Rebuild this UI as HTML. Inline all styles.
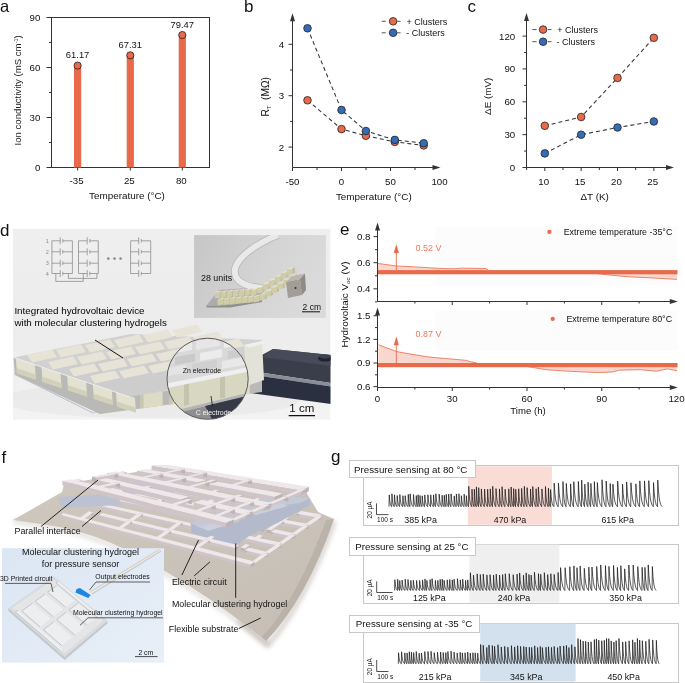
<!DOCTYPE html>
<html><head><meta charset="utf-8"><style>
html,body{margin:0;padding:0;background:#fff;}
svg{display:block;}
text{font-family:"Liberation Sans",sans-serif;}
</style></head><body>
<svg style="will-change:transform" width="685" height="683" viewBox="0 0 685 683">
<rect width="685" height="683" fill="#fff"/>
<text x="0.00" y="235.60" font-size="17" text-anchor="start" fill="#111" >d</text>
<defs>
<linearGradient id="dbg" x1="0" y1="0" x2="0" y2="1">
 <stop offset="0" stop-color="#efefef"/><stop offset="0.55" stop-color="#ececec"/><stop offset="1" stop-color="#f3f3f3"/></linearGradient>
<linearGradient id="insbg" x1="0" y1="0" x2="1" y2="0.3">
 <stop offset="0" stop-color="#c6c6c6"/><stop offset="0.6" stop-color="#d4d4d4"/><stop offset="1" stop-color="#dadada"/></linearGradient>
<linearGradient id="phone" x1="0" y1="0" x2="0" y2="1">
 <stop offset="0" stop-color="#3b4150"/><stop offset="0.5" stop-color="#262b38"/><stop offset="1" stop-color="#3a3f4c"/></linearGradient>
<linearGradient id="plate" x1="0" y1="0" x2="0" y2="1">
 <stop offset="0" stop-color="#dedede"/><stop offset="1" stop-color="#cfcfd2"/></linearGradient>
<clipPath id="dclip"><rect x="12.9" y="228.6" width="317.6" height="191.2"/></clipPath>
<clipPath id="circclip"><circle cx="207.6" cy="378.8" r="40.6"/></clipPath>
</defs>
<g clip-path="url(#dclip)">
<rect x="12.9" y="228.6" width="317.6" height="191.2" fill="url(#dbg)"/>
<ellipse cx="150" cy="400" rx="150" ry="18" fill="#e4e4e4" opacity="0.5"/>
<polygon points="249.0,362.0 273.0,349.0 331.0,355.0 331.0,383.0 250.0,371.0" fill="#3a3e4b" />
<polygon points="273.0,349.0 331.0,355.0 331.0,366.0 262.0,357.0" fill="#474b59" />
<polygon points="250.0,371.0 331.0,383.0 331.0,386.5 250.0,374.5" fill="#8a8d98" />
<polygon points="250.0,374.5 331.0,386.5 331.0,404.0 250.0,393.0" fill="#2b3040" />
<ellipse cx="325" cy="358.4" rx="7" ry="3.2" fill="#1f2431"/>
<ellipse cx="325" cy="356.6" rx="5" ry="2" fill="#3c4250"/>
<polygon points="14.8,374.4 150.0,349.0 262.0,356.0 175.0,392.0 100.0,414.0" fill="#d6d6da" />
<line x1="14.80" y1="374.40" x2="93.00" y2="413.00" stroke="#a9b0cc" stroke-width="0.8" />
<line x1="93.00" y1="413.00" x2="175.00" y2="390.00" stroke="#c2c4cc" stroke-width="0.8" />
<polygon points="13.6,357.5 130.0,396.0 262.0,378.0 262.0,392.0 100.0,414.0 14.8,374.4" fill="#b9b9b6" />
<polygon points="15.9,358.3 34.9,364.6 35.9,379.6 16.9,373.3" fill="#e3e1cf" />
<polygon points="16.9,368.3 35.9,374.6 35.9,379.6 16.9,373.3" fill="#d2d0ba" />
<polygon points="41.5,366.7 60.5,373.0 61.5,388.0 42.5,381.7" fill="#e3e1cf" />
<polygon points="42.5,376.7 61.5,383.0 61.5,388.0 42.5,381.7" fill="#d2d0ba" />
<polygon points="67.1,375.2 86.1,381.5 87.1,396.5 68.1,390.2" fill="#e3e1cf" />
<polygon points="68.1,385.2 87.1,391.5 87.1,396.5 68.1,390.2" fill="#d2d0ba" />
<polygon points="92.8,383.7 111.8,390.0 112.8,405.0 93.8,398.7" fill="#e3e1cf" />
<polygon points="93.8,393.7 112.8,400.0 112.8,405.0 93.8,398.7" fill="#d2d0ba" />
<polygon points="116.0,391.4 135.0,397.7 136.0,412.7 117.0,406.4" fill="#e3e1cf" />
<polygon points="117.0,401.4 136.0,407.7 136.0,412.7 117.0,406.4" fill="#d2d0ba" />
<polygon points="140.6,394.6 162.6,391.6 162.6,405.6 140.6,408.6" fill="#dddbc6" />
<polygon points="140.6,394.6 143.6,394.2 143.6,408.2 140.6,408.6" fill="#c9c7b0" />
<polygon points="169.6,390.6 191.6,387.6 191.6,401.6 169.6,404.6" fill="#dddbc6" />
<polygon points="169.6,390.6 172.6,390.2 172.6,404.2 169.6,404.6" fill="#c9c7b0" />
<polygon points="198.6,386.6 220.6,383.6 220.6,397.6 198.6,400.6" fill="#dddbc6" />
<polygon points="198.6,386.6 201.6,386.2 201.6,400.2 198.6,400.6" fill="#c9c7b0" />
<polygon points="227.7,382.7 249.7,379.7 249.7,393.7 227.7,396.7" fill="#dddbc6" />
<polygon points="227.7,382.7 230.7,382.3 230.7,396.3 227.7,396.7" fill="#c9c7b0" />
<polygon points="13.6,357.5 131.0,334.0 262.0,340.0 258.0,372.0 130.0,397.0" fill="#cbcbcb" opacity="0.85"/>
<line x1="13.60" y1="357.50" x2="130.00" y2="397.00" stroke="#f0f0f0" stroke-width="0.9" />
<polygon points="244.0,345.0 262.0,341.0 264.0,380.0 247.0,386.0" fill="#e2e2d8" />
<polygon points="244.0,345.0 262.0,341.0 266.0,343.0 249.0,347.5" fill="#f0f0ea" />
<polygon points="90.0,376.0 115.0,370.5 120.0,378.0 95.0,383.5" fill="#e7e3d7" />
<polygon points="119.0,371.0 144.0,365.5 149.0,373.0 124.0,378.5" fill="#e7e3d7" />
<polygon points="148.0,366.0 173.0,360.5 178.0,368.0 153.0,373.5" fill="#e7e3d7" />
<polygon points="177.0,361.0 202.0,355.5 207.0,363.0 182.0,368.5" fill="#e7e3d7" />
<polygon points="206.0,356.0 231.0,350.5 236.0,358.0 211.0,363.5" fill="#e7e3d7" />
<polygon points="69.0,369.0 94.0,363.5 99.0,371.0 74.0,376.5" fill="#e7e3d7" />
<polygon points="98.0,364.0 123.0,358.5 128.0,366.0 103.0,371.5" fill="#e7e3d7" />
<polygon points="127.0,359.0 152.0,353.5 157.0,361.0 132.0,366.5" fill="#e7e3d7" />
<polygon points="156.0,354.0 181.0,348.5 186.0,356.0 161.0,361.5" fill="#e7e3d7" />
<polygon points="185.0,349.0 210.0,343.5 215.0,351.0 190.0,356.5" fill="#e7e3d7" />
<polygon points="214.0,344.0 239.0,338.5 244.0,346.0 219.0,351.5" fill="#e7e3d7" />
<polygon points="48.0,362.0 73.0,356.5 78.0,364.0 53.0,369.5" fill="#e7e3d7" />
<polygon points="77.0,357.0 102.0,351.5 107.0,359.0 82.0,364.5" fill="#e7e3d7" />
<polygon points="106.0,352.0 131.0,346.5 136.0,354.0 111.0,359.5" fill="#e7e3d7" />
<polygon points="135.0,347.0 160.0,341.5 165.0,349.0 140.0,354.5" fill="#e7e3d7" />
<polygon points="164.0,342.0 189.0,336.5 194.0,344.0 169.0,349.5" fill="#e7e3d7" />
<polygon points="193.0,337.0 218.0,331.5 223.0,339.0 198.0,344.5" fill="#e7e3d7" />
<polygon points="27.0,355.0 52.0,349.5 57.0,357.0 32.0,362.5" fill="#e7e3d7" />
<polygon points="56.0,350.0 81.0,344.5 86.0,352.0 61.0,357.5" fill="#e7e3d7" />
<polygon points="85.0,345.0 110.0,339.5 115.0,347.0 90.0,352.5" fill="#e7e3d7" />
<polygon points="114.0,340.0 139.0,334.5 144.0,342.0 119.0,347.5" fill="#e7e3d7" />
<polygon points="143.0,335.0 168.0,329.5 173.0,337.0 148.0,342.5" fill="#e7e3d7" />
<polygon points="172.0,330.0 197.0,324.5 202.0,332.0 177.0,337.5" fill="#e7e3d7" />
<g clip-path="url(#circclip)">
<rect x="165" y="336" width="86" height="86" fill="#d9d9d9"/>
<rect x="170" y="345" width="22" height="9" fill="#e9e9e9" transform="skewY(-10)" transform-origin="170 345"/>
<rect x="196" y="341" width="24" height="9" fill="#e6e6e6" transform="skewY(-10)" transform-origin="196 341"/>
<rect x="224" y="340" width="22" height="8" fill="#eeeeee" transform="skewY(-10)" transform-origin="224 340"/>
<rect x="175" y="357" width="20" height="8" fill="#c9c9c9" transform="skewY(-10)" transform-origin="175 357"/>
<rect x="200" y="353" width="22" height="8" fill="#ececec" transform="skewY(-10)" transform-origin="200 353"/>
<rect x="228" y="351" width="20" height="8" fill="#cdcdcd" transform="skewY(-10)" transform-origin="228 351"/>
<rect x="168" y="368" width="18" height="8" fill="#e4e4e4" transform="skewY(-10)" transform-origin="168 368"/>
<rect x="192" y="364" width="25" height="8" fill="#d0d0d0" transform="skewY(-10)" transform-origin="192 364"/>
<rect x="222" y="361" width="24" height="8" fill="#e8e8e8" transform="skewY(-10)" transform-origin="222 361"/>
<polygon points="165.0,388.5 251.0,371.0 251.0,392.0 165.0,413.0" fill="#d8d8c2" />
<polygon points="184.0,380.8 189.0,379.8 189.0,404.8 184.0,405.8" fill="#c4c4ae" />
<polygon points="220.0,373.6 225.0,372.6 225.0,397.6 220.0,398.6" fill="#c4c4ae" />
<polygon points="165.0,384.0 251.0,366.5 251.0,371.0 165.0,388.5" fill="#efefef" />
<polygon points="165.0,413.0 251.0,392.0 251.0,395.0 165.0,416.0" fill="#b4b4b4" />
<polygon points="165.0,416.0 251.0,395.0 251.0,425.0 165.0,425.0" fill="#8f8f92" />
<polygon points="205.0,406.0 251.0,395.0 251.0,425.0 215.0,425.0" fill="#363a46" />
</g>
<circle cx="207.6" cy="378.8" r="40.6" fill="none" stroke="#5b5b5b" stroke-width="1"/>
<text x="202.00" y="372.60" font-size="6.9" text-anchor="middle" fill="#111" >Zn electrode</text>
<text x="213.60" y="414.70" font-size="7.0" text-anchor="middle" fill="#f4f4f4" >C electrode</text>
<line x1="211.00" y1="396.00" x2="212.50" y2="406.00" stroke="#111" stroke-width="0.8" />
<text x="301.80" y="412.00" font-size="11.5" text-anchor="middle" fill="#111" >1 cm</text>
<line x1="288.70" y1="415.60" x2="315.00" y2="415.60" stroke="#111" stroke-width="1.3" />
<line x1="95.00" y1="340.00" x2="123.00" y2="358.00" stroke="#111" stroke-width="1" />
</g>
<line x1="51.90" y1="240.80" x2="60.20" y2="240.80" stroke="#8e8e8e" stroke-width="0.8" />
<line x1="62.80" y1="240.80" x2="72.40" y2="240.80" stroke="#8e8e8e" stroke-width="0.8" />
<line x1="60.20" y1="237.30" x2="60.20" y2="244.30" stroke="#8e8e8e" stroke-width="0.8" />
<line x1="62.80" y1="239.00" x2="62.80" y2="242.60" stroke="#8e8e8e" stroke-width="0.8" />
<line x1="51.90" y1="251.80" x2="60.20" y2="251.80" stroke="#8e8e8e" stroke-width="0.8" />
<line x1="62.80" y1="251.80" x2="72.40" y2="251.80" stroke="#8e8e8e" stroke-width="0.8" />
<line x1="60.20" y1="248.30" x2="60.20" y2="255.30" stroke="#8e8e8e" stroke-width="0.8" />
<line x1="62.80" y1="250.00" x2="62.80" y2="253.60" stroke="#8e8e8e" stroke-width="0.8" />
<line x1="51.90" y1="263.20" x2="60.20" y2="263.20" stroke="#8e8e8e" stroke-width="0.8" />
<line x1="62.80" y1="263.20" x2="72.40" y2="263.20" stroke="#8e8e8e" stroke-width="0.8" />
<line x1="60.20" y1="259.70" x2="60.20" y2="266.70" stroke="#8e8e8e" stroke-width="0.8" />
<line x1="62.80" y1="261.40" x2="62.80" y2="265.00" stroke="#8e8e8e" stroke-width="0.8" />
<line x1="51.90" y1="273.50" x2="60.20" y2="273.50" stroke="#8e8e8e" stroke-width="0.8" />
<line x1="62.80" y1="273.50" x2="72.40" y2="273.50" stroke="#8e8e8e" stroke-width="0.8" />
<line x1="60.20" y1="270.00" x2="60.20" y2="277.00" stroke="#8e8e8e" stroke-width="0.8" />
<line x1="62.80" y1="271.70" x2="62.80" y2="275.30" stroke="#8e8e8e" stroke-width="0.8" />
<line x1="51.90" y1="240.80" x2="51.90" y2="273.50" stroke="#8e8e8e" stroke-width="0.8" />
<line x1="72.40" y1="240.80" x2="72.40" y2="273.50" stroke="#8e8e8e" stroke-width="0.8" />
<line x1="78.50" y1="240.80" x2="87.20" y2="240.80" stroke="#8e8e8e" stroke-width="0.8" />
<line x1="89.80" y1="240.80" x2="98.30" y2="240.80" stroke="#8e8e8e" stroke-width="0.8" />
<line x1="87.20" y1="237.30" x2="87.20" y2="244.30" stroke="#8e8e8e" stroke-width="0.8" />
<line x1="89.80" y1="239.00" x2="89.80" y2="242.60" stroke="#8e8e8e" stroke-width="0.8" />
<line x1="78.50" y1="251.80" x2="87.20" y2="251.80" stroke="#8e8e8e" stroke-width="0.8" />
<line x1="89.80" y1="251.80" x2="98.30" y2="251.80" stroke="#8e8e8e" stroke-width="0.8" />
<line x1="87.20" y1="248.30" x2="87.20" y2="255.30" stroke="#8e8e8e" stroke-width="0.8" />
<line x1="89.80" y1="250.00" x2="89.80" y2="253.60" stroke="#8e8e8e" stroke-width="0.8" />
<line x1="78.50" y1="263.20" x2="87.20" y2="263.20" stroke="#8e8e8e" stroke-width="0.8" />
<line x1="89.80" y1="263.20" x2="98.30" y2="263.20" stroke="#8e8e8e" stroke-width="0.8" />
<line x1="87.20" y1="259.70" x2="87.20" y2="266.70" stroke="#8e8e8e" stroke-width="0.8" />
<line x1="89.80" y1="261.40" x2="89.80" y2="265.00" stroke="#8e8e8e" stroke-width="0.8" />
<line x1="78.50" y1="273.50" x2="87.20" y2="273.50" stroke="#8e8e8e" stroke-width="0.8" />
<line x1="89.80" y1="273.50" x2="98.30" y2="273.50" stroke="#8e8e8e" stroke-width="0.8" />
<line x1="87.20" y1="270.00" x2="87.20" y2="277.00" stroke="#8e8e8e" stroke-width="0.8" />
<line x1="89.80" y1="271.70" x2="89.80" y2="275.30" stroke="#8e8e8e" stroke-width="0.8" />
<line x1="78.50" y1="240.80" x2="78.50" y2="273.50" stroke="#8e8e8e" stroke-width="0.8" />
<line x1="98.30" y1="240.80" x2="98.30" y2="273.50" stroke="#8e8e8e" stroke-width="0.8" />
<line x1="130.60" y1="240.80" x2="138.70" y2="240.80" stroke="#8e8e8e" stroke-width="0.8" />
<line x1="141.30" y1="240.80" x2="150.70" y2="240.80" stroke="#8e8e8e" stroke-width="0.8" />
<line x1="138.70" y1="237.30" x2="138.70" y2="244.30" stroke="#8e8e8e" stroke-width="0.8" />
<line x1="141.30" y1="239.00" x2="141.30" y2="242.60" stroke="#8e8e8e" stroke-width="0.8" />
<line x1="130.60" y1="251.80" x2="138.70" y2="251.80" stroke="#8e8e8e" stroke-width="0.8" />
<line x1="141.30" y1="251.80" x2="150.70" y2="251.80" stroke="#8e8e8e" stroke-width="0.8" />
<line x1="138.70" y1="248.30" x2="138.70" y2="255.30" stroke="#8e8e8e" stroke-width="0.8" />
<line x1="141.30" y1="250.00" x2="141.30" y2="253.60" stroke="#8e8e8e" stroke-width="0.8" />
<line x1="130.60" y1="263.20" x2="138.70" y2="263.20" stroke="#8e8e8e" stroke-width="0.8" />
<line x1="141.30" y1="263.20" x2="150.70" y2="263.20" stroke="#8e8e8e" stroke-width="0.8" />
<line x1="138.70" y1="259.70" x2="138.70" y2="266.70" stroke="#8e8e8e" stroke-width="0.8" />
<line x1="141.30" y1="261.40" x2="141.30" y2="265.00" stroke="#8e8e8e" stroke-width="0.8" />
<line x1="130.60" y1="273.50" x2="138.70" y2="273.50" stroke="#8e8e8e" stroke-width="0.8" />
<line x1="141.30" y1="273.50" x2="150.70" y2="273.50" stroke="#8e8e8e" stroke-width="0.8" />
<line x1="138.70" y1="270.00" x2="138.70" y2="277.00" stroke="#8e8e8e" stroke-width="0.8" />
<line x1="141.30" y1="271.70" x2="141.30" y2="275.30" stroke="#8e8e8e" stroke-width="0.8" />
<line x1="130.60" y1="240.80" x2="130.60" y2="273.50" stroke="#8e8e8e" stroke-width="0.8" />
<line x1="150.70" y1="240.80" x2="150.70" y2="273.50" stroke="#8e8e8e" stroke-width="0.8" />
<path d="M55.8,273.5 L55.8,281.4 L83.3,281.4 L83.3,273.5" fill="none" stroke="#8e8e8e" stroke-width="0.8"/>
<path d="M68.4,273.5 L68.4,278.4 L96.9,278.4 L96.9,273.5" fill="none" stroke="#8e8e8e" stroke-width="0.8"/>
<text x="47.40" y="242.80" font-size="5.5" text-anchor="middle" fill="#8a8a8a" >1</text>
<text x="47.40" y="253.80" font-size="5.5" text-anchor="middle" fill="#8a8a8a" >2</text>
<text x="47.40" y="265.20" font-size="5.5" text-anchor="middle" fill="#8a8a8a" >3</text>
<text x="47.40" y="275.50" font-size="5.5" text-anchor="middle" fill="#8a8a8a" >4</text>
<circle cx="108.3" cy="258.6" r="1.35" fill="#8e8e8e"/>
<circle cx="114.5" cy="258.6" r="1.35" fill="#8e8e8e"/>
<circle cx="120.6" cy="258.6" r="1.35" fill="#8e8e8e"/>
<text x="14.40" y="313.80" font-size="9.8" text-anchor="start" fill="#000" >Integrated hydrovoltaic device</text>
<text x="14.40" y="325.70" font-size="9.8" text-anchor="start" fill="#000" >with molecular clustering hydrogels</text>
<clipPath id="insclip"><rect x="194.1" y="235.1" width="131.8" height="82.8"/></clipPath>
<g clip-path="url(#insclip)">
<rect x="194.1" y="235.1" width="131.8" height="82.8" fill="url(#insbg)"/>
<polygon points="206.0,306.0 219.0,290.0 265.0,287.0 262.0,300.0 230.0,305.0" fill="#acacac" />
<polygon points="206.0,306.0 230.0,305.0 262.0,300.0 262.0,302.0 230.0,307.5 207.0,307.5" fill="#8f8f8f" />
<path d="M278,235 C258,243 238,256 235,269 C233,280 244,287 262,288" fill="none" stroke="#b4b4b4" stroke-width="7.5"/>
<path d="M278,235 C258,243 238,256 235,269 C233,280 244,287 262,288" fill="none" stroke="#e9e9e9" stroke-width="6"/>
<path d="M262,290 C272,289 282,280 296,270" fill="none" stroke="#d0d0d0" stroke-width="6"/>
<polygon points="215.0,293.0 220.5,292.0 220.5,297.5 215.0,298.5" fill="#cfcca6" />
<polygon points="215.0,293.0 220.5,292.0 222.5,290.4 217.0,291.4" fill="#e7e5cf" />
<polygon points="220.5,292.0 222.5,290.4 222.5,296.0 220.5,297.5" fill="#bdb995" />
<polygon points="221.0,292.5 226.5,291.5 226.5,297.0 221.0,298.0" fill="#cfcca6" />
<polygon points="221.0,292.5 226.5,291.5 228.5,289.9 223.0,290.9" fill="#e7e5cf" />
<polygon points="226.5,291.5 228.5,289.9 228.5,295.5 226.5,297.0" fill="#bdb995" />
<polygon points="227.0,292.0 232.5,291.0 232.5,296.5 227.0,297.5" fill="#cfcca6" />
<polygon points="227.0,292.0 232.5,291.0 234.5,289.4 229.0,290.4" fill="#e7e5cf" />
<polygon points="232.5,291.0 234.5,289.4 234.5,295.0 232.5,296.5" fill="#bdb995" />
<polygon points="233.0,291.6 238.5,290.6 238.5,296.1 233.0,297.1" fill="#cfcca6" />
<polygon points="233.0,291.6 238.5,290.6 240.5,289.0 235.0,290.0" fill="#e7e5cf" />
<polygon points="238.5,290.6 240.5,289.0 240.5,294.6 238.5,296.1" fill="#bdb995" />
<polygon points="239.0,291.1 244.5,290.1 244.5,295.6 239.0,296.6" fill="#cfcca6" />
<polygon points="239.0,291.1 244.5,290.1 246.5,288.5 241.0,289.5" fill="#e7e5cf" />
<polygon points="244.5,290.1 246.5,288.5 246.5,294.1 244.5,295.6" fill="#bdb995" />
<polygon points="245.0,290.6 250.5,289.6 250.5,295.1 245.0,296.1" fill="#cfcca6" />
<polygon points="245.0,290.6 250.5,289.6 252.5,288.0 247.0,289.0" fill="#e7e5cf" />
<polygon points="250.5,289.6 252.5,288.0 252.5,293.6 250.5,295.1" fill="#bdb995" />
<polygon points="251.0,290.1 256.5,289.1 256.5,294.6 251.0,295.6" fill="#cfcca6" />
<polygon points="251.0,290.1 256.5,289.1 258.5,287.5 253.0,288.5" fill="#e7e5cf" />
<polygon points="256.5,289.1 258.5,287.5 258.5,293.1 256.5,294.6" fill="#bdb995" />
<polygon points="257.0,288.1 262.5,287.1 262.5,292.6 257.0,293.6" fill="#cfcca6" />
<polygon points="257.0,288.1 262.5,287.1 264.5,285.5 259.0,286.5" fill="#e7e5cf" />
<polygon points="262.5,287.1 264.5,285.5 264.5,291.1 262.5,292.6" fill="#bdb995" />
<polygon points="263.0,284.4 268.5,283.4 268.5,288.9 263.0,289.9" fill="#cfcca6" />
<polygon points="263.0,284.4 268.5,283.4 270.5,281.8 265.0,282.8" fill="#e7e5cf" />
<polygon points="268.5,283.4 270.5,281.8 270.5,287.4 268.5,288.9" fill="#bdb995" />
<polygon points="269.0,280.7 274.5,279.7 274.5,285.2 269.0,286.2" fill="#cfcca6" />
<polygon points="269.0,280.7 274.5,279.7 276.5,278.1 271.0,279.1" fill="#e7e5cf" />
<polygon points="274.5,279.7 276.5,278.1 276.5,283.7 274.5,285.2" fill="#bdb995" />
<polygon points="275.0,277.0 280.5,276.0 280.5,281.5 275.0,282.5" fill="#cfcca6" />
<polygon points="275.0,277.0 280.5,276.0 282.5,274.4 277.0,275.4" fill="#e7e5cf" />
<polygon points="280.5,276.0 282.5,274.4 282.5,280.0 280.5,281.5" fill="#bdb995" />
<polygon points="281.0,273.3 286.5,272.3 286.5,277.8 281.0,278.8" fill="#cfcca6" />
<polygon points="281.0,273.3 286.5,272.3 288.5,270.7 283.0,271.7" fill="#e7e5cf" />
<polygon points="286.5,272.3 288.5,270.7 288.5,276.3 286.5,277.8" fill="#bdb995" />
<polygon points="287.0,269.5 292.5,268.5 292.5,274.0 287.0,275.0" fill="#cfcca6" />
<polygon points="287.0,269.5 292.5,268.5 294.5,266.9 289.0,267.9" fill="#e7e5cf" />
<polygon points="292.5,268.5 294.5,266.9 294.5,272.5 292.5,274.0" fill="#bdb995" />
<polygon points="217.5,300.0 223.0,299.0 223.0,304.5 217.5,305.5" fill="#cfcca6" />
<polygon points="217.5,300.0 223.0,299.0 225.0,297.4 219.5,298.4" fill="#e7e5cf" />
<polygon points="223.0,299.0 225.0,297.4 225.0,303.0 223.0,304.5" fill="#bdb995" />
<polygon points="223.5,299.5 229.0,298.5 229.0,304.0 223.5,305.0" fill="#cfcca6" />
<polygon points="223.5,299.5 229.0,298.5 231.0,296.9 225.5,297.9" fill="#e7e5cf" />
<polygon points="229.0,298.5 231.0,296.9 231.0,302.5 229.0,304.0" fill="#bdb995" />
<polygon points="229.5,299.0 235.0,298.0 235.0,303.5 229.5,304.5" fill="#cfcca6" />
<polygon points="229.5,299.0 235.0,298.0 237.0,296.4 231.5,297.4" fill="#e7e5cf" />
<polygon points="235.0,298.0 237.0,296.4 237.0,302.0 235.0,303.5" fill="#bdb995" />
<polygon points="235.5,298.6 241.0,297.6 241.0,303.1 235.5,304.1" fill="#cfcca6" />
<polygon points="235.5,298.6 241.0,297.6 243.0,296.0 237.5,297.0" fill="#e7e5cf" />
<polygon points="241.0,297.6 243.0,296.0 243.0,301.6 241.0,303.1" fill="#bdb995" />
<polygon points="241.5,298.1 247.0,297.1 247.0,302.6 241.5,303.6" fill="#cfcca6" />
<polygon points="241.5,298.1 247.0,297.1 249.0,295.5 243.5,296.5" fill="#e7e5cf" />
<polygon points="247.0,297.1 249.0,295.5 249.0,301.1 247.0,302.6" fill="#bdb995" />
<polygon points="247.5,297.6 253.0,296.6 253.0,302.1 247.5,303.1" fill="#cfcca6" />
<polygon points="247.5,297.6 253.0,296.6 255.0,295.0 249.5,296.0" fill="#e7e5cf" />
<polygon points="253.0,296.6 255.0,295.0 255.0,300.6 253.0,302.1" fill="#bdb995" />
<polygon points="253.5,297.1 259.0,296.1 259.0,301.6 253.5,302.6" fill="#cfcca6" />
<polygon points="253.5,297.1 259.0,296.1 261.0,294.5 255.5,295.5" fill="#e7e5cf" />
<polygon points="259.0,296.1 261.0,294.5 261.0,300.1 259.0,301.6" fill="#bdb995" />
<polygon points="259.5,295.1 265.0,294.1 265.0,299.6 259.5,300.6" fill="#cfcca6" />
<polygon points="259.5,295.1 265.0,294.1 267.0,292.5 261.5,293.5" fill="#e7e5cf" />
<polygon points="265.0,294.1 267.0,292.5 267.0,298.1 265.0,299.6" fill="#bdb995" />
<polygon points="265.5,291.4 271.0,290.4 271.0,295.9 265.5,296.9" fill="#cfcca6" />
<polygon points="265.5,291.4 271.0,290.4 273.0,288.8 267.5,289.8" fill="#e7e5cf" />
<polygon points="271.0,290.4 273.0,288.8 273.0,294.4 271.0,295.9" fill="#bdb995" />
<polygon points="271.5,287.7 277.0,286.7 277.0,292.2 271.5,293.2" fill="#cfcca6" />
<polygon points="271.5,287.7 277.0,286.7 279.0,285.1 273.5,286.1" fill="#e7e5cf" />
<polygon points="277.0,286.7 279.0,285.1 279.0,290.7 277.0,292.2" fill="#bdb995" />
<polygon points="277.5,284.0 283.0,283.0 283.0,288.5 277.5,289.5" fill="#cfcca6" />
<polygon points="277.5,284.0 283.0,283.0 285.0,281.4 279.5,282.4" fill="#e7e5cf" />
<polygon points="283.0,283.0 285.0,281.4 285.0,287.0 283.0,288.5" fill="#bdb995" />
<polygon points="283.5,280.3 289.0,279.3 289.0,284.8 283.5,285.8" fill="#cfcca6" />
<polygon points="283.5,280.3 289.0,279.3 291.0,277.7 285.5,278.7" fill="#e7e5cf" />
<polygon points="289.0,279.3 291.0,277.7 291.0,283.3 289.0,284.8" fill="#bdb995" />
<polygon points="289.5,276.5 295.0,275.5 295.0,281.0 289.5,282.0" fill="#cfcca6" />
<polygon points="289.5,276.5 295.0,275.5 297.0,273.9 291.5,274.9" fill="#e7e5cf" />
<polygon points="295.0,275.5 297.0,273.9 297.0,279.5 295.0,281.0" fill="#bdb995" />
<polygon points="286.0,282.0 300.0,279.0 302.0,295.0 288.0,298.0" fill="#a29d96" />
<polygon points="286.0,282.0 292.0,276.0 305.0,273.5 300.0,279.0" fill="#bbb7b0" />
<polygon points="300.0,279.0 305.0,273.5 306.0,290.0 302.0,295.0" fill="#8e8a84" />
<circle cx="295.5" cy="288" r="1" fill="#333"/>
</g>
<text x="201.00" y="280.50" font-size="8.9" text-anchor="start" fill="#111" >28 units</text>
<text x="311.80" y="310.00" font-size="8.5" text-anchor="middle" fill="#111" >2 cm</text>
<line x1="302.00" y1="311.80" x2="320.00" y2="311.80" stroke="#111" stroke-width="1" />
<text x="1.50" y="463.30" font-size="17" text-anchor="start" fill="#111" >f</text>
<defs><linearGradient id="sub" x1="0" y1="0" x2="1" y2="1">
<stop offset="0" stop-color="#cfc8bf"/><stop offset="1" stop-color="#c6beb5"/></linearGradient>
<linearGradient id="insf" x1="0" y1="0" x2="1" y2="1">
<stop offset="0" stop-color="#dbe6f3"/><stop offset="1" stop-color="#e8eff8"/></linearGradient>
<filter id="blur2"><feGaussianBlur stdDeviation="2.5"/></filter></defs>
<path d="M334,521 Q306,600 268,645 Q250,630 238,620" fill="none" stroke="#9e958c" stroke-width="5" opacity="0.45" filter="url(#blur2)"/>
<path d="M13,521 L50,527 C100,535 140,558 164,573 Q215,601 268,645" fill="none" stroke="#a0978e" stroke-width="4" opacity="0.35" filter="url(#blur2)"/>
<path d="M13,520 L62,492 L64,484 L160,468 L306,492 L318,512 L334,519 Q306,600 266,641 Q215,600 164.4,570.7 C140,556 100,533 50,525.5 Z" fill="url(#sub)"/>
<path d="M334,519 Q306,600 266,641 L262,637 Q298,598 326,520 Z" fill="#b3aaa0" opacity="0.6"/>
<clipPath id="lowclip"><polygon points="56,470 345,470 345,600 104,600 88,540 62,515"/></clipPath><g clip-path="url(#lowclip)">
<polygon points="140.0,486.5 160.9,490.1 181.9,493.8 202.8,497.4 223.7,501.0 244.7,504.7 265.6,508.3 286.6,512.0 286.6,515.0 265.6,511.3 244.7,507.7 223.7,504.0 202.8,500.4 181.9,496.8 160.9,493.1 140.0,489.5" fill="#cfc5c9" />
<polygon points="286.6,512.0 290.4,509.2 290.4,512.2 286.6,515.0" fill="#bdb3b7" />
<polygon points="140.0,486.5 160.9,490.1 181.9,493.8 202.8,497.4 223.7,501.0 244.7,504.7 265.6,508.3 286.6,512.0 290.4,509.2 269.4,505.7 248.3,502.1 227.3,498.6 206.2,495.0 185.1,491.4 164.1,487.9 143.0,484.3" fill="#eee8ea" />
<polygon points="297.0,513.8 318.0,517.4 318.0,520.4 297.0,516.8" fill="#cfc5c9" />
<polygon points="318.0,517.4 322.0,514.6 322.0,517.6 318.0,520.4" fill="#bdb3b7" />
<polygon points="301.0,511.0 297.0,513.8 297.0,516.8 301.0,514.0" fill="#bdb3b7" />
<polygon points="297.0,513.8 318.0,517.4 322.0,514.6 301.0,511.0" fill="#eee8ea" />
<polygon points="201.2,505.7 212.7,497.6 212.7,500.6 201.2,508.7" fill="#cfc5c9" />
<polygon points="212.7,497.6 217.3,498.4 217.3,501.4 212.7,500.6" fill="#bdb3b7" />
<polygon points="205.7,506.5 201.2,505.7 201.2,508.7 205.7,509.5" fill="#bdb3b7" />
<polygon points="201.2,505.7 212.7,497.6 217.3,498.4 205.7,506.5" fill="#eee8ea" />
<polygon points="304.3,525.0 317.7,515.6 317.7,518.6 304.3,528.0" fill="#cfc5c9" />
<polygon points="317.7,515.6 322.3,516.4 322.3,519.4 317.7,518.6" fill="#bdb3b7" />
<polygon points="308.8,525.8 304.3,525.0 304.3,528.0 308.8,528.8" fill="#bdb3b7" />
<polygon points="304.3,525.0 317.7,515.6 322.3,516.4 308.8,525.8" fill="#eee8ea" />
<polygon points="160.0,498.0 164.3,494.9 164.3,497.9 160.0,501.0" fill="#cfc5c9" />
<polygon points="164.3,494.9 168.8,495.8 168.8,498.8 164.3,497.9" fill="#bdb3b7" />
<polygon points="164.5,498.8 160.0,498.0 160.0,501.0 164.5,501.8" fill="#bdb3b7" />
<polygon points="160.0,498.0 164.3,494.9 168.8,495.8 164.5,498.8" fill="#eee8ea" />
<polygon points="242.4,513.4 247.3,510.0 247.3,513.0 242.4,516.4" fill="#cfc5c9" />
<polygon points="247.3,510.0 251.9,510.8 251.9,513.8 247.3,513.0" fill="#bdb3b7" />
<polygon points="247.0,514.2 242.4,513.4 242.4,516.4 247.0,517.2" fill="#bdb3b7" />
<polygon points="242.4,513.4 247.3,510.0 251.9,510.8 247.0,514.2" fill="#eee8ea" />
<polygon points="279.5,520.3 284.7,516.7 284.7,519.7 279.5,523.3" fill="#cfc5c9" />
<polygon points="284.7,516.7 289.3,517.5 289.3,520.5 284.7,519.7" fill="#bdb3b7" />
<polygon points="284.1,521.2 279.5,520.3 279.5,523.3 284.1,524.2" fill="#bdb3b7" />
<polygon points="279.5,520.3 284.7,516.7 289.3,517.5 284.1,521.2" fill="#eee8ea" />
<polygon points="109.2,489.8 128.8,493.5 148.3,497.2 167.8,500.9 187.3,504.6 206.9,508.3 226.4,512.0 245.9,515.7 265.4,519.4 285.0,523.1 304.5,526.8 304.5,529.8 285.0,526.1 265.4,522.4 245.9,518.7 226.4,515.0 206.9,511.3 187.3,507.6 167.8,503.9 148.3,500.2 128.8,496.5 109.2,492.8" fill="#cfc5c9" />
<polygon points="304.5,526.8 308.5,524.0 308.5,527.0 304.5,529.8" fill="#bdb3b7" />
<polygon points="109.2,489.8 128.8,493.5 148.3,497.2 167.8,500.9 187.3,504.6 206.9,508.3 226.4,512.0 245.9,515.7 265.4,519.4 285.0,523.1 304.5,526.8 308.5,524.0 288.9,520.4 269.3,516.7 249.6,513.1 230.0,509.5 210.4,505.8 190.7,502.2 171.1,498.6 151.4,495.0 131.8,491.3 112.2,487.7" fill="#eee8ea" />
<polygon points="149.2,505.5 160.0,498.0 160.0,501.0 149.2,508.5" fill="#cfc5c9" />
<polygon points="160.0,498.0 164.5,498.8 164.5,501.8 160.0,501.0" fill="#bdb3b7" />
<polygon points="153.7,506.4 149.2,505.5 149.2,508.5 153.7,509.4" fill="#bdb3b7" />
<polygon points="149.2,505.5 160.0,498.0 164.5,498.8 153.7,506.4" fill="#eee8ea" />
<polygon points="230.1,522.0 242.4,513.4 242.4,516.4 230.1,525.0" fill="#cfc5c9" />
<polygon points="242.4,513.4 247.0,514.2 247.0,517.2 242.4,516.4" fill="#bdb3b7" />
<polygon points="234.6,522.9 230.1,522.0 230.1,525.0 234.6,525.9" fill="#bdb3b7" />
<polygon points="230.1,522.0 242.4,513.4 247.0,514.2 234.6,522.9" fill="#eee8ea" />
<polygon points="266.5,529.4 279.5,520.3 279.5,523.3 266.5,532.4" fill="#cfc5c9" />
<polygon points="279.5,520.3 284.1,521.2 284.1,524.2 279.5,523.3" fill="#bdb3b7" />
<polygon points="271.0,530.3 266.5,529.4 266.5,532.4 271.0,533.3" fill="#bdb3b7" />
<polygon points="266.5,529.4 279.5,520.3 284.1,521.2 271.0,530.3" fill="#eee8ea" />
<polygon points="290.8,534.3 304.3,525.0 304.3,528.0 290.8,537.3" fill="#cfc5c9" />
<polygon points="304.3,525.0 308.8,525.8 308.8,528.8 304.3,528.0" fill="#bdb3b7" />
<polygon points="295.3,535.3 290.8,534.3 290.8,537.3 295.3,538.3" fill="#bdb3b7" />
<polygon points="290.8,534.3 304.3,525.0 308.8,525.8 295.3,535.3" fill="#eee8ea" />
<polygon points="119.6,500.9 139.8,505.0 159.9,509.2 180.1,513.3 200.3,517.5 220.4,521.7 240.6,525.8 260.8,530.0 260.8,533.0 240.6,528.8 220.4,524.7 200.3,520.5 180.1,516.3 159.9,512.2 139.8,508.0 119.6,503.9" fill="#cfc5c9" />
<polygon points="260.8,530.0 264.6,527.3 264.6,530.3 260.8,533.0" fill="#bdb3b7" />
<polygon points="119.6,500.9 139.8,505.0 159.9,509.2 180.1,513.3 200.3,517.5 220.4,521.7 240.6,525.8 260.8,530.0 264.6,527.3 244.4,523.2 224.1,519.1 203.8,515.0 183.5,510.9 163.2,506.9 142.9,502.8 122.7,498.7" fill="#eee8ea" />
<polygon points="270.9,532.1 291.0,536.2 291.0,539.2 270.9,535.1" fill="#cfc5c9" />
<polygon points="291.0,536.2 295.1,533.4 295.1,536.4 291.0,539.2" fill="#bdb3b7" />
<polygon points="274.8,529.3 270.9,532.1 270.9,535.1 274.8,532.3" fill="#bdb3b7" />
<polygon points="270.9,532.1 291.0,536.2 295.1,533.4 274.8,529.3" fill="#eee8ea" />
<polygon points="277.4,543.7 290.8,534.3 290.8,537.3 277.4,546.7" fill="#cfc5c9" />
<polygon points="290.8,534.3 295.3,535.3 295.3,538.3 290.8,537.3" fill="#bdb3b7" />
<polygon points="281.7,544.7 277.4,543.7 277.4,546.7 281.7,547.7" fill="#bdb3b7" />
<polygon points="277.4,543.7 290.8,534.3 295.3,535.3 281.7,544.7" fill="#eee8ea" />
<polygon points="98.9,504.3 102.8,501.5 102.8,504.5 98.9,507.3" fill="#cfc5c9" />
<polygon points="102.8,501.5 107.2,502.4 107.2,505.4 102.8,504.5" fill="#bdb3b7" />
<polygon points="103.2,505.3 98.9,504.3 98.9,507.3 103.2,508.3" fill="#bdb3b7" />
<polygon points="98.9,504.3 102.8,501.5 107.2,502.4 103.2,505.3" fill="#eee8ea" />
<polygon points="217.9,530.6 222.8,527.1 222.8,530.1 217.9,533.6" fill="#cfc5c9" />
<polygon points="222.8,527.1 227.2,528.1 227.2,531.1 222.8,530.1" fill="#bdb3b7" />
<polygon points="222.2,531.5 217.9,530.6 217.9,533.6 222.2,534.5" fill="#bdb3b7" />
<polygon points="217.9,530.6 222.8,527.1 227.2,528.1 222.2,531.5" fill="#eee8ea" />
<polygon points="253.6,538.5 258.8,534.8 258.8,537.8 253.6,541.5" fill="#cfc5c9" />
<polygon points="258.8,534.8 263.2,535.8 263.2,538.8 258.8,537.8" fill="#bdb3b7" />
<polygon points="257.9,539.4 253.6,538.5 253.6,541.5 257.9,542.4" fill="#bdb3b7" />
<polygon points="253.6,538.5 258.8,534.8 263.2,535.8 257.9,539.4" fill="#eee8ea" />
<polygon points="89.6,503.6 108.4,507.8 127.2,512.0 146.0,516.2 164.8,520.4 183.6,524.6 202.4,528.8 221.2,533.0 240.0,537.2 258.7,541.4 277.5,545.6 277.5,548.6 258.7,544.4 240.0,540.2 221.2,536.0 202.4,531.8 183.6,527.6 164.8,523.4 146.0,519.2 127.2,515.0 108.4,510.8 89.6,506.6" fill="#cfc5c9" />
<polygon points="277.5,545.6 281.6,542.8 281.6,545.8 277.5,548.6" fill="#bdb3b7" />
<polygon points="89.6,503.6 108.4,507.8 127.2,512.0 146.0,516.2 164.8,520.4 183.6,524.6 202.4,528.8 221.2,533.0 240.0,537.2 258.7,541.4 277.5,545.6 281.6,542.8 262.7,538.7 243.8,534.5 224.9,530.4 206.0,526.3 187.1,522.2 168.2,518.0 149.3,513.9 130.4,509.8 111.5,505.7 92.6,501.6" fill="#eee8ea" />
<polygon points="127.8,520.6 138.5,513.1 138.5,516.1 127.8,523.6" fill="#cfc5c9" />
<polygon points="138.5,513.1 142.9,514.0 142.9,517.0 138.5,516.1" fill="#bdb3b7" />
<polygon points="132.1,521.6 127.8,520.6 127.8,523.6 132.1,524.6" fill="#bdb3b7" />
<polygon points="127.8,520.6 138.5,513.1 142.9,514.0 132.1,521.6" fill="#eee8ea" />
<polygon points="166.7,529.9 178.2,521.8 178.2,524.8 166.7,532.9" fill="#cfc5c9" />
<polygon points="178.2,521.8 182.6,522.8 182.6,525.8 178.2,524.8" fill="#bdb3b7" />
<polygon points="171.0,530.9 166.7,529.9 166.7,532.9 171.0,533.9" fill="#bdb3b7" />
<polygon points="166.7,529.9 178.2,521.8 182.6,522.8 171.0,530.9" fill="#eee8ea" />
<polygon points="263.9,553.1 277.4,543.7 277.4,546.7 263.9,556.1" fill="#cfc5c9" />
<polygon points="277.4,543.7 281.7,544.7 281.7,547.7 277.4,546.7" fill="#bdb3b7" />
<polygon points="268.2,554.1 263.9,553.1 263.9,556.1 268.2,557.1" fill="#bdb3b7" />
<polygon points="263.9,553.1 277.4,543.7 281.7,544.7 268.2,554.1" fill="#eee8ea" />
</g>
<polygon points="190.5,522.7 191.7,533.3 222.0,541.4 234.9,546.1 250.0,535.6 278.0,522.7 309.6,505.2 309.6,498.2 273.4,493.5 238.4,502.9" fill="#b3bacb" />
<polygon points="190.5,522.7 238.4,502.9 273.4,493.5 309.6,498.2 300.0,503.0 262.0,508.0 230.0,518.0 200.0,528.0" fill="#c3c9d6" />
<polygon points="58.0,497.0 112.0,494.0 122.0,505.0 62.0,508.0" fill="#bcc2d1" />
<polygon points="120.0,484.0 172.0,480.0 178.0,492.0 124.0,495.0" fill="#c0c6d4" />
<polygon points="200.0,527.0 232.0,517.0 240.0,521.0 208.0,531.0" fill="#cbd0dc" />
<polygon points="248.0,512.0 280.0,503.0 288.0,506.0 256.0,515.0" fill="#cbd0dc" />
<g clip-path="url(#lowclip)">
<polygon points="205.6,539.2 210.5,535.7 210.5,538.7 205.6,542.2" fill="#cfc5c9" />
<polygon points="210.5,535.7 214.8,536.7 214.8,539.7 210.5,538.7" fill="#bdb3b7" />
<polygon points="209.9,540.2 205.6,539.2 205.6,542.2 209.9,543.2" fill="#bdb3b7" />
<polygon points="205.6,539.2 210.5,535.7 214.8,536.7 209.9,540.2" fill="#eee8ea" />
<polygon points="240.6,547.5 245.8,543.9 245.8,546.9 240.6,550.5" fill="#cfc5c9" />
<polygon points="245.8,543.9 250.1,544.9 250.1,547.9 245.8,546.9" fill="#bdb3b7" />
<polygon points="244.9,548.5 240.6,547.5 240.6,550.5 244.9,551.5" fill="#bdb3b7" />
<polygon points="240.6,547.5 245.8,543.9 250.1,544.9 244.9,548.5" fill="#eee8ea" />
<polygon points="99.2,515.2 118.6,519.9 138.0,524.6 157.4,529.3 176.8,534.0 196.2,538.6 215.6,543.3 235.0,548.0 235.0,551.0 215.6,546.3 196.2,541.6 176.8,537.0 157.4,532.3 138.0,527.6 118.6,522.9 99.2,518.2" fill="#cfc5c9" />
<polygon points="235.0,548.0 238.8,545.3 238.8,548.3 235.0,551.0" fill="#bdb3b7" />
<polygon points="99.2,515.2 118.6,519.9 138.0,524.6 157.4,529.3 176.8,534.0 196.2,538.6 215.6,543.3 235.0,548.0 238.8,545.3 219.3,540.7 199.8,536.1 180.3,531.5 160.8,526.9 141.3,522.3 121.8,517.7 102.3,513.1" fill="#eee8ea" />
<polygon points="244.7,550.3 264.1,555.0 264.1,558.0 244.7,553.3" fill="#cfc5c9" />
<polygon points="264.1,555.0 268.1,552.2 268.1,555.2 264.1,558.0" fill="#bdb3b7" />
<polygon points="248.6,547.6 244.7,550.3 244.7,553.3 248.6,550.6" fill="#bdb3b7" />
<polygon points="244.7,550.3 264.1,555.0 268.1,552.2 248.6,547.6" fill="#eee8ea" />
<polygon points="79.0,518.4 88.9,511.3 88.9,514.3 79.0,521.4" fill="#cfc5c9" />
<polygon points="88.9,511.3 93.2,512.4 93.2,515.4 88.9,514.3" fill="#bdb3b7" />
<polygon points="83.2,519.4 79.0,518.4 79.0,521.4 83.2,522.4" fill="#bdb3b7" />
<polygon points="79.0,518.4 88.9,511.3 93.2,512.4 83.2,519.4" fill="#eee8ea" />
<polygon points="117.1,528.2 127.8,520.6 127.8,523.6 117.1,531.2" fill="#cfc5c9" />
<polygon points="127.8,520.6 132.1,521.6 132.1,524.6 127.8,523.6" fill="#bdb3b7" />
<polygon points="121.3,529.2 117.1,528.2 117.1,531.2 121.3,532.2" fill="#bdb3b7" />
<polygon points="117.1,528.2 127.8,520.6 132.1,521.6 121.3,529.2" fill="#eee8ea" />
<polygon points="155.2,538.0 166.7,529.9 166.7,532.9 155.2,541.0" fill="#cfc5c9" />
<polygon points="166.7,529.9 171.0,530.9 171.0,533.9 166.7,532.9" fill="#bdb3b7" />
<polygon points="159.4,539.0 155.2,538.0 155.2,541.0 159.4,542.0" fill="#bdb3b7" />
<polygon points="155.2,538.0 166.7,529.9 171.0,530.9 159.4,539.0" fill="#eee8ea" />
<polygon points="193.3,547.8 205.6,539.2 205.6,542.2 193.3,550.8" fill="#cfc5c9" />
<polygon points="205.6,539.2 209.9,540.2 209.9,543.2 205.6,542.2" fill="#bdb3b7" />
<polygon points="197.5,548.8 193.3,547.8 193.3,550.8 197.5,551.8" fill="#bdb3b7" />
<polygon points="193.3,547.8 205.6,539.2 209.9,540.2 197.5,548.8" fill="#eee8ea" />
<polygon points="250.5,562.5 263.9,553.1 263.9,556.1 250.5,565.5" fill="#cfc5c9" />
<polygon points="263.9,553.1 268.2,554.1 268.2,557.1 263.9,556.1" fill="#bdb3b7" />
<polygon points="254.7,563.5 250.5,562.5 250.5,565.5 254.7,566.5" fill="#bdb3b7" />
<polygon points="250.5,562.5 263.9,553.1 268.2,554.1 254.7,563.5" fill="#eee8ea" />
<polygon points="60.6,515.0 77.8,519.5 95.1,524.0 112.4,528.5 129.7,533.0 146.9,537.5 164.2,542.0 181.5,546.4 198.8,550.9 216.0,555.4 233.3,559.9 250.6,564.4 250.6,567.4 233.3,562.9 216.0,558.4 198.8,553.9 181.5,549.4 164.2,545.0 146.9,540.5 129.7,536.0 112.4,531.5 95.1,527.0 77.8,522.5 60.6,518.0" fill="#cfc5c9" />
<polygon points="250.6,564.4 254.6,561.6 254.6,564.6 250.6,567.4" fill="#bdb3b7" />
<polygon points="60.6,515.0 77.8,519.5 95.1,524.0 112.4,528.5 129.7,533.0 146.9,537.5 164.2,542.0 181.5,546.4 198.8,550.9 216.0,555.4 233.3,559.9 250.6,564.4 254.6,561.6 237.2,557.2 219.9,552.8 202.5,548.3 185.1,543.9 167.7,539.5 150.3,535.1 133.0,530.7 115.6,526.2 98.2,521.8 80.8,517.4 63.4,513.0" fill="#eee8ea" />
</g>
<clipPath id="latclip"><polygon points="52,465 345,465 345,600 104,600 88,533 66,512 56,490"/></clipPath><g clip-path="url(#latclip)">
<polygon points="151.6,465.4 165.2,467.7 178.8,469.9 192.4,472.2 205.9,474.4 219.5,476.6 233.1,478.9 246.7,481.1 260.2,483.3 273.8,485.6 287.4,487.8 301.0,490.1 301.0,494.6 287.4,492.3 273.8,490.1 260.2,487.8 246.7,485.6 233.1,483.4 219.5,481.1 205.9,478.9 192.4,476.7 178.8,474.4 165.2,472.2 151.6,469.9" fill="#cfc5c9" />
<polygon points="301.0,490.1 308.8,486.7 308.8,491.2 301.0,494.6" fill="#bdb3b7" />
<polygon points="151.6,465.4 165.2,467.7 178.8,469.9 192.4,472.2 205.9,474.4 219.5,476.6 233.1,478.9 246.7,481.1 260.2,483.3 273.8,485.6 287.4,487.8 301.0,490.1 308.8,486.7 295.3,484.6 281.9,482.5 268.5,480.4 255.0,478.4 241.6,476.3 228.1,474.2 214.7,472.1 201.3,470.1 187.8,468.0 174.4,465.9 160.9,463.8" fill="#eee8ea" />
<polygon points="159.4,473.2 181.1,468.6 181.1,473.1 159.4,477.7" fill="#cfc5c9" />
<polygon points="181.1,468.6 185.0,469.2 185.0,473.7 181.1,473.1" fill="#bdb3b7" />
<polygon points="163.3,473.9 159.4,473.2 159.4,477.7 163.3,478.4" fill="#bdb3b7" />
<polygon points="159.4,473.2 181.1,468.6 185.0,469.2 163.3,473.9" fill="#eee8ea" />
<polygon points="182.2,477.4 203.4,472.2 203.4,476.7 182.2,481.9" fill="#cfc5c9" />
<polygon points="203.4,472.2 207.2,472.8 207.2,477.3 203.4,476.7" fill="#bdb3b7" />
<polygon points="186.2,478.1 182.2,477.4 182.2,481.9 186.2,482.6" fill="#bdb3b7" />
<polygon points="182.2,477.4 203.4,472.2 207.2,472.8 186.2,478.1" fill="#eee8ea" />
<polygon points="227.9,485.8 248.0,479.3 248.0,483.8 227.9,490.3" fill="#cfc5c9" />
<polygon points="248.0,479.3 251.8,479.9 251.8,484.4 248.0,483.8" fill="#bdb3b7" />
<polygon points="231.8,486.5 227.9,485.8 227.9,490.3 231.8,491.0" fill="#bdb3b7" />
<polygon points="227.9,485.8 248.0,479.3 251.8,479.9 231.8,486.5" fill="#eee8ea" />
<polygon points="284.2,496.2 302.9,488.1 302.9,492.6 284.2,500.7" fill="#cfc5c9" />
<polygon points="302.9,488.1 306.8,488.7 306.8,493.2 302.9,492.6" fill="#bdb3b7" />
<polygon points="288.1,496.9 284.2,496.2 284.2,500.7 288.1,501.4" fill="#bdb3b7" />
<polygon points="284.2,496.2 302.9,488.1 306.8,488.7 288.1,496.9" fill="#eee8ea" />
<polygon points="205.0,481.6 212.8,479.4 212.8,483.9 205.0,486.1" fill="#cfc5c9" />
<polygon points="212.8,479.4 216.7,480.1 216.7,484.6 212.8,483.9" fill="#bdb3b7" />
<polygon points="209.0,482.3 205.0,481.6 205.0,486.1 209.0,486.8" fill="#bdb3b7" />
<polygon points="205.0,481.6 212.8,479.4 216.7,480.1 209.0,482.3" fill="#eee8ea" />
<polygon points="137.0,470.7 149.2,473.0 161.4,475.4 173.7,477.7 185.9,480.0 198.1,482.3 198.1,486.8 185.9,484.5 173.7,482.2 161.4,479.9 149.2,477.5 137.0,475.2" fill="#cfc5c9" />
<polygon points="198.1,482.3 206.8,479.9 206.8,484.4 198.1,486.8" fill="#bdb3b7" />
<polygon points="137.0,470.7 149.2,473.0 161.4,475.4 173.7,477.7 185.9,480.0 198.1,482.3 206.8,479.9 194.6,477.7 182.5,475.6 170.4,473.4 158.3,471.2 146.2,469.0" fill="#eee8ea" />
<polygon points="208.8,484.3 222.0,486.8 235.2,489.3 248.3,491.8 261.5,494.3 274.6,496.8 274.6,501.3 261.5,498.8 248.3,496.3 235.2,493.8 222.0,491.3 208.8,488.8" fill="#cfc5c9" />
<polygon points="274.6,496.8 282.5,493.5 282.5,498.0 274.6,501.3" fill="#bdb3b7" />
<polygon points="208.8,484.3 222.0,486.8 235.2,489.3 248.3,491.8 261.5,494.3 274.6,496.8 282.5,493.5 269.5,491.1 256.4,488.8 243.4,486.5 230.4,484.1 217.4,481.8" fill="#eee8ea" />
<polygon points="137.7,477.7 159.4,473.2 159.4,477.7 137.7,482.2" fill="#cfc5c9" />
<polygon points="159.4,473.2 163.3,473.9 163.3,478.4 159.4,477.7" fill="#bdb3b7" />
<polygon points="141.7,478.6 137.7,477.7 137.7,482.2 141.7,483.1" fill="#bdb3b7" />
<polygon points="137.7,477.7 159.4,473.2 163.3,473.9 141.7,478.6" fill="#eee8ea" />
<polygon points="161.0,482.6 182.2,477.4 182.2,481.9 161.0,487.1" fill="#cfc5c9" />
<polygon points="182.2,477.4 186.2,478.1 186.2,482.6 182.2,481.9" fill="#bdb3b7" />
<polygon points="165.1,483.4 161.0,482.6 161.0,487.1 165.1,487.9" fill="#bdb3b7" />
<polygon points="161.0,482.6 182.2,477.4 186.2,478.1 165.1,483.4" fill="#eee8ea" />
<polygon points="184.4,487.4 205.0,481.6 205.0,486.1 184.4,491.9" fill="#cfc5c9" />
<polygon points="205.0,481.6 209.0,482.3 209.0,486.8 205.0,486.1" fill="#bdb3b7" />
<polygon points="188.4,488.3 184.4,487.4 184.4,491.9 188.4,492.8" fill="#bdb3b7" />
<polygon points="184.4,487.4 205.0,481.6 209.0,482.3 188.4,488.3" fill="#eee8ea" />
<polygon points="265.4,504.3 284.2,496.2 284.2,500.7 265.4,508.8" fill="#cfc5c9" />
<polygon points="284.2,496.2 288.1,496.9 288.1,501.4 284.2,500.7" fill="#bdb3b7" />
<polygon points="269.5,505.1 265.4,504.3 265.4,508.8 269.5,509.6" fill="#bdb3b7" />
<polygon points="265.4,504.3 284.2,496.2 288.1,496.9 269.5,505.1" fill="#eee8ea" />
<polygon points="114.3,472.9 122.6,471.4 122.6,475.9 114.3,477.4" fill="#cfc5c9" />
<polygon points="122.6,471.4 126.7,472.2 126.7,476.7 122.6,475.9" fill="#bdb3b7" />
<polygon points="118.3,473.7 114.3,472.9 114.3,477.4 118.3,478.2" fill="#bdb3b7" />
<polygon points="114.3,472.9 122.6,471.4 126.7,472.2 118.3,473.7" fill="#eee8ea" />
<polygon points="207.8,492.3 215.3,489.8 215.3,494.3 207.8,496.8" fill="#cfc5c9" />
<polygon points="215.3,489.8 219.3,490.6 219.3,495.1 215.3,494.3" fill="#bdb3b7" />
<polygon points="211.8,493.1 207.8,492.3 207.8,496.8 211.8,497.6" fill="#bdb3b7" />
<polygon points="207.8,492.3 215.3,489.8 219.3,490.6 211.8,493.1" fill="#eee8ea" />
<polygon points="231.1,497.1 238.5,494.5 238.5,499.0 231.1,501.6" fill="#cfc5c9" />
<polygon points="238.5,494.5 242.5,495.3 242.5,499.8 238.5,499.0" fill="#bdb3b7" />
<polygon points="235.2,498.0 231.1,497.1 231.1,501.6 235.2,502.5" fill="#bdb3b7" />
<polygon points="231.1,497.1 238.5,494.5 242.5,495.3 235.2,498.0" fill="#eee8ea" />
<polygon points="249.8,501.0 257.0,498.1 257.0,502.6 249.8,505.5" fill="#cfc5c9" />
<polygon points="257.0,498.1 261.0,498.9 261.0,503.4 257.0,502.6" fill="#bdb3b7" />
<polygon points="253.9,501.9 249.8,501.0 249.8,505.5 253.9,506.4" fill="#bdb3b7" />
<polygon points="249.8,501.0 257.0,498.1 261.0,498.9 253.9,501.9" fill="#eee8ea" />
<polygon points="107.0,473.1 121.2,476.1 135.5,479.2 149.7,482.2 163.9,485.2 178.1,488.2 192.4,491.3 206.6,494.3 220.8,497.3 235.1,500.3 249.3,503.4 263.5,506.4 263.5,510.9 249.3,507.9 235.1,504.8 220.8,501.8 206.6,498.8 192.4,495.8 178.1,492.7 163.9,489.7 149.7,486.7 135.5,483.7 121.2,480.6 107.0,477.6" fill="#cfc5c9" />
<polygon points="263.5,506.4 271.3,503.0 271.3,507.5 263.5,510.9" fill="#bdb3b7" />
<polygon points="107.0,473.1 121.2,476.1 135.5,479.2 149.7,482.2 163.9,485.2 178.1,488.2 192.4,491.3 206.6,494.3 220.8,497.3 235.1,500.3 249.3,503.4 263.5,506.4 271.3,503.0 257.2,500.1 243.1,497.3 229.1,494.4 215.0,491.5 200.9,488.7 186.8,485.8 172.7,483.0 158.6,480.1 144.5,477.2 130.4,474.4 116.3,471.5" fill="#eee8ea" />
<polygon points="92.0,476.8 114.3,472.9 114.3,477.4 92.0,481.3" fill="#cfc5c9" />
<polygon points="114.3,472.9 118.3,473.7 118.3,478.2 114.3,477.4" fill="#bdb3b7" />
<polygon points="96.2,477.7 92.0,476.8 92.0,481.3 96.2,482.2" fill="#bdb3b7" />
<polygon points="92.0,476.8 114.3,472.9 118.3,473.7 96.2,477.7" fill="#eee8ea" />
<polygon points="211.6,504.3 231.1,497.1 231.1,501.6 211.6,508.8" fill="#cfc5c9" />
<polygon points="231.1,497.1 235.2,498.0 235.2,502.5 231.1,501.6" fill="#bdb3b7" />
<polygon points="215.7,505.2 211.6,504.3 211.6,508.8 215.7,509.7" fill="#bdb3b7" />
<polygon points="211.6,504.3 231.1,497.1 235.2,498.0 215.7,505.2" fill="#eee8ea" />
<polygon points="230.7,508.7 249.8,501.0 249.8,505.5 230.7,513.2" fill="#cfc5c9" />
<polygon points="249.8,501.0 253.9,501.9 253.9,506.4 249.8,505.5" fill="#bdb3b7" />
<polygon points="234.9,509.6 230.7,508.7 230.7,513.2 234.9,514.1" fill="#bdb3b7" />
<polygon points="230.7,508.7 249.8,501.0 253.9,501.9 234.9,509.6" fill="#eee8ea" />
<polygon points="246.6,512.4 265.4,504.3 265.4,508.8 246.6,516.9" fill="#cfc5c9" />
<polygon points="265.4,504.3 269.5,505.1 269.5,509.6 265.4,508.8" fill="#bdb3b7" />
<polygon points="250.8,513.3 246.6,512.4 246.6,516.9 250.8,517.8" fill="#bdb3b7" />
<polygon points="246.6,512.4 265.4,504.3 269.5,505.1 250.8,513.3" fill="#eee8ea" />
<polygon points="139.8,487.8 147.8,485.8 147.8,490.3 139.8,492.3" fill="#cfc5c9" />
<polygon points="147.8,485.8 151.9,486.7 151.9,491.2 147.8,490.3" fill="#bdb3b7" />
<polygon points="144.0,488.7 139.8,487.8 139.8,492.3 144.0,493.2" fill="#bdb3b7" />
<polygon points="139.8,487.8 147.8,485.8 151.9,486.7 144.0,488.7" fill="#eee8ea" />
<polygon points="97.5,480.0 111.4,483.2 125.2,486.5 139.1,489.7 153.0,493.0 166.9,496.3 180.8,499.5 180.8,504.0 166.9,500.8 153.0,497.5 139.1,494.2 125.2,491.0 111.4,487.7 97.5,484.5" fill="#cfc5c9" />
<polygon points="180.8,499.5 189.2,496.8 189.2,501.3 180.8,504.0" fill="#bdb3b7" />
<polygon points="97.5,480.0 111.4,483.2 125.2,486.5 139.1,489.7 153.0,493.0 166.9,496.3 180.8,499.5 189.2,496.8 175.4,493.7 161.7,490.6 147.9,487.5 134.2,484.4 120.4,481.3 106.7,478.2" fill="#eee8ea" />
<polygon points="193.6,502.5 206.4,505.5 219.2,508.5 232.0,511.5 244.8,514.5 244.8,519.0 232.0,516.0 219.2,513.0 206.4,510.0 193.6,507.0" fill="#cfc5c9" />
<polygon points="244.8,514.5 252.6,511.1 252.6,515.6 244.8,519.0" fill="#bdb3b7" />
<polygon points="193.6,502.5 206.4,505.5 219.2,508.5 232.0,511.5 244.8,514.5 252.6,511.1 239.9,508.3 227.2,505.4 214.5,502.6 201.9,499.7" fill="#eee8ea" />
<polygon points="94.2,486.8 115.9,482.3 115.9,486.8 94.2,491.3" fill="#cfc5c9" />
<polygon points="115.9,482.3 120.1,483.2 120.1,487.7 115.9,486.8" fill="#bdb3b7" />
<polygon points="98.5,487.9 94.2,486.8 94.2,491.3 98.5,492.4" fill="#bdb3b7" />
<polygon points="94.2,486.8 115.9,482.3 120.1,483.2 98.5,487.9" fill="#eee8ea" />
<polygon points="167.6,505.3 187.7,498.8 187.7,503.3 167.6,509.8" fill="#cfc5c9" />
<polygon points="187.7,498.8 191.8,499.7 191.8,504.2 187.7,503.3" fill="#bdb3b7" />
<polygon points="171.8,506.4 167.6,505.3 167.6,509.8 171.8,510.9" fill="#bdb3b7" />
<polygon points="167.6,505.3 187.7,498.8 191.8,499.7 171.8,506.4" fill="#eee8ea" />
<polygon points="192.0,511.4 211.6,504.3 211.6,508.8 192.0,515.9" fill="#cfc5c9" />
<polygon points="211.6,504.3 215.7,505.2 215.7,509.7 211.6,508.8" fill="#bdb3b7" />
<polygon points="196.3,512.5 192.0,511.4 192.0,515.9 196.3,517.0" fill="#bdb3b7" />
<polygon points="192.0,511.4 211.6,504.3 215.7,505.2 196.3,512.5" fill="#eee8ea" />
<polygon points="211.6,516.4 230.7,508.7 230.7,513.2 211.6,520.9" fill="#cfc5c9" />
<polygon points="230.7,508.7 234.9,509.6 234.9,514.1 230.7,513.2" fill="#bdb3b7" />
<polygon points="215.8,517.4 211.6,516.4 211.6,520.9 215.8,521.9" fill="#bdb3b7" />
<polygon points="211.6,516.4 230.7,508.7 234.9,509.6 215.8,517.4" fill="#eee8ea" />
<polygon points="227.9,520.5 246.6,512.4 246.6,516.9 227.9,525.0" fill="#cfc5c9" />
<polygon points="246.6,512.4 250.8,513.3 250.8,517.8 246.6,516.9" fill="#bdb3b7" />
<polygon points="232.1,521.5 227.9,520.5 227.9,525.0 232.1,526.0" fill="#bdb3b7" />
<polygon points="227.9,520.5 246.6,512.4 250.8,513.3 232.1,521.5" fill="#eee8ea" />
<polygon points="69.8,480.7 78.1,479.2 78.1,483.7 69.8,485.2" fill="#cfc5c9" />
<polygon points="78.1,479.2 82.3,480.3 82.3,484.8 78.1,483.7" fill="#bdb3b7" />
<polygon points="74.0,481.8 69.8,480.7 69.8,485.2 74.0,486.3" fill="#bdb3b7" />
<polygon points="69.8,480.7 78.1,479.2 82.3,480.3 74.0,481.8" fill="#eee8ea" />
<polygon points="62.4,480.8 77.2,484.6 92.1,488.4 107.0,492.2 121.9,496.0 136.8,499.8 151.7,503.7 166.6,507.5 181.4,511.3 196.3,515.1 211.2,518.9 226.1,522.7 226.1,527.2 211.2,523.4 196.3,519.6 181.4,515.8 166.6,512.0 151.7,508.2 136.8,504.3 121.9,500.5 107.0,496.7 92.1,492.9 77.2,489.1 62.4,485.3" fill="#cfc5c9" />
<polygon points="226.1,522.7 233.9,519.3 233.9,523.8 226.1,527.2" fill="#bdb3b7" />
<polygon points="62.4,480.8 77.2,484.6 92.1,488.4 107.0,492.2 121.9,496.0 136.8,499.8 151.7,503.7 166.6,507.5 181.4,511.3 196.3,515.1 211.2,518.9 226.1,522.7 233.9,519.3 219.1,515.7 204.4,512.0 189.6,508.4 174.9,504.7 160.1,501.1 145.4,497.4 130.6,493.8 115.9,490.1 101.1,486.5 86.4,482.8 71.7,479.2" fill="#eee8ea" />
</g>
<line x1="98.00" y1="480.00" x2="41.00" y2="526.50" stroke="#111" stroke-width="0.9" />
<line x1="101.00" y1="510.50" x2="82.00" y2="526.50" stroke="#111" stroke-width="0.9" />
<text x="14.50" y="533.80" font-size="8.9" text-anchor="start" fill="#111" >Parallel interface</text>
<line x1="198.50" y1="540.00" x2="181.90" y2="575.00" stroke="#111" stroke-width="0.9" />
<line x1="209.90" y1="561.90" x2="194.20" y2="575.90" stroke="#111" stroke-width="0.9" />
<text x="171.90" y="585.20" font-size="8.9" text-anchor="start" fill="#111" >Electric circuit</text>
<line x1="235.70" y1="543.50" x2="235.70" y2="597.80" stroke="#111" stroke-width="0.9" />
<text x="171.90" y="606.90" font-size="8.9" text-anchor="start" fill="#111" >Molecular clustering hydrogel</text>
<line x1="238.80" y1="628.50" x2="260.70" y2="618.00" stroke="#111" stroke-width="0.9" />
<text x="168.80" y="631.50" font-size="8.9" text-anchor="start" fill="#111" >Flexible substrate</text>
<rect x="2" y="548.2" width="162" height="114.4" fill="url(#insf)"/>
<path d="M90,592 L159.5,549.3" stroke="#d9c48a" stroke-width="0.8"/>
<path d="M92,594 L161,551" stroke="#c9c9c9" stroke-width="1.2"/>
<polygon points="8.4,611.0 64.6,660.0 107.4,623.5 107.4,620.7 64.6,656.8 8.4,608.1" fill="#c5c8cc" />
<polygon points="8.4,608.1 53.7,576.2 107.4,620.7 64.6,656.8" fill="#d9dbde" />
<polygon points="12.0,608.0 53.7,579.5 103.5,620.7 64.6,653.5" fill="#e3e5e7" />
<polygon points="21.7,611.0 32.5,603.2 50.7,618.8 40.1,626.9" fill="#eceeef" />
<polyline points="40.1,626.9 21.7,611.0 32.5,603.2" fill="none" stroke="#b9bcc0" stroke-width="0.8"/>
<polygon points="43.5,629.8 54.0,621.6 72.3,637.2 61.9,645.7" fill="#eceeef" />
<polyline points="61.9,645.7 43.5,629.8 54.0,621.6" fill="none" stroke="#b9bcc0" stroke-width="0.8"/>
<polygon points="35.1,601.3 45.0,594.1 63.1,609.3 53.3,616.8" fill="#eceeef" />
<polyline points="53.3,616.8 35.1,601.3 45.0,594.1" fill="none" stroke="#b9bcc0" stroke-width="0.8"/>
<polygon points="56.7,619.6 66.3,612.1 84.3,627.3 74.9,635.1" fill="#eceeef" />
<polyline points="74.9,635.1 56.7,619.6 66.3,612.1" fill="none" stroke="#b9bcc0" stroke-width="0.8"/>
<polygon points="47.7,592.2 56.7,585.7 74.5,600.5 65.7,607.3" fill="#eceeef" />
<polyline points="65.7,607.3 47.7,592.2 56.7,585.7" fill="none" stroke="#b9bcc0" stroke-width="0.8"/>
<polygon points="69.0,610.0 77.8,603.2 95.6,618.0 86.9,625.1" fill="#eceeef" />
<polyline points="86.9,625.1 69.0,610.0 77.8,603.2" fill="none" stroke="#b9bcc0" stroke-width="0.8"/>
<polygon points="15.4,612.0 18.1,610.1 62.9,648.7 60.3,650.9" fill="#eceeef" />
<polyline points="60.3,650.9 15.4,612.0 18.1,610.1" fill="none" stroke="#b9bcc0" stroke-width="0.8"/>
<polygon points="55.9,582.9 58.2,581.3 101.2,617.0 99.0,618.7" fill="#eceeef" />
<polyline points="99.0,618.7 55.9,582.9 58.2,581.3" fill="none" stroke="#b9bcc0" stroke-width="0.8"/>
<polygon points="76.6,589.0 80.0,587.9 90.6,594.9 88.3,597.9 75.4,592.6" fill="#1f86e0" />
<text x="80.50" y="554.50" font-size="9.0" text-anchor="middle" fill="#111" >Molecular clustering hydrogel</text>
<text x="80.50" y="566.90" font-size="9.0" text-anchor="middle" fill="#111" >for pressure sensor</text>
<text x="0.00" y="580.90" font-size="6.9" text-anchor="start" fill="#111" >3D Printed circuit</text>
<path d="M5,583.4 L51,583.4 L53,592" fill="none" stroke="#222" stroke-width="0.7"/>
<text x="95.30" y="578.50" font-size="6.9" text-anchor="start" fill="#111" >Output electrodes</text>
<path d="M150,582 L96,582 L89.5,590" fill="none" stroke="#222" stroke-width="0.7"/>
<text x="73.00" y="614.70" font-size="6.9" text-anchor="start" fill="#111" >Molecular clustering hydrogel</text>
<path d="M163,617.8 L88,617.8 L80,625.3" fill="none" stroke="#222" stroke-width="0.7"/>
<text x="145.80" y="655.00" font-size="6.8" text-anchor="middle" fill="#111" >2 cm</text>
<line x1="135.00" y1="656.60" x2="157.60" y2="656.60" stroke="#222" stroke-width="0.8" />
<text x="0.00" y="11.80" font-size="16.5" text-anchor="start" fill="#111" >a</text>
<rect x="51.5" y="17.5" width="158.0" height="150.0" fill="none" stroke="#333333" stroke-width="1"/>
<line x1="46.50" y1="167.50" x2="51.50" y2="167.50" stroke="#333333" stroke-width="1" />
<text x="40.30" y="170.90" font-size="9.7" text-anchor="end" fill="#111" >0</text>
<line x1="46.50" y1="117.50" x2="51.50" y2="117.50" stroke="#333333" stroke-width="1" />
<text x="40.30" y="120.90" font-size="9.7" text-anchor="end" fill="#111" >30</text>
<line x1="46.50" y1="67.50" x2="51.50" y2="67.50" stroke="#333333" stroke-width="1" />
<text x="40.30" y="70.90" font-size="9.7" text-anchor="end" fill="#111" >60</text>
<line x1="46.50" y1="17.50" x2="51.50" y2="17.50" stroke="#333333" stroke-width="1" />
<text x="40.30" y="20.90" font-size="9.7" text-anchor="end" fill="#111" >90</text>
<line x1="49.00" y1="142.50" x2="51.50" y2="142.50" stroke="#333333" stroke-width="1" />
<line x1="49.00" y1="92.50" x2="51.50" y2="92.50" stroke="#333333" stroke-width="1" />
<line x1="49.00" y1="42.50" x2="51.50" y2="42.50" stroke="#333333" stroke-width="1" />
<rect x="74.00" y="65.55" width="7.2" height="101.95" fill="#e9694b"/>
<circle cx="77.60" cy="65.55" r="3.6" fill="#e9694b" stroke="#222" stroke-width="0.8"/>
<text x="77.60" y="58.05" font-size="9.4" text-anchor="middle" fill="#111" >61.17</text>
<line x1="77.60" y1="167.50" x2="77.60" y2="170.50" stroke="#333333" stroke-width="1" />
<text x="76.60" y="183.90" font-size="9.7" text-anchor="middle" fill="#111" >-35</text>
<rect x="126.70" y="55.32" width="7.2" height="112.18" fill="#e9694b"/>
<circle cx="130.30" cy="55.32" r="3.6" fill="#e9694b" stroke="#222" stroke-width="0.8"/>
<text x="130.30" y="47.82" font-size="9.4" text-anchor="middle" fill="#111" >67.31</text>
<line x1="130.30" y1="167.50" x2="130.30" y2="170.50" stroke="#333333" stroke-width="1" />
<text x="129.30" y="183.90" font-size="9.7" text-anchor="middle" fill="#111" >25</text>
<rect x="178.70" y="35.05" width="7.2" height="132.45" fill="#e9694b"/>
<circle cx="182.30" cy="35.05" r="3.6" fill="#e9694b" stroke="#222" stroke-width="0.8"/>
<text x="182.30" y="27.55" font-size="9.4" text-anchor="middle" fill="#111" >79.47</text>
<line x1="182.30" y1="167.50" x2="182.30" y2="170.50" stroke="#333333" stroke-width="1" />
<text x="181.30" y="183.90" font-size="9.7" text-anchor="middle" fill="#111" >80</text>
<text x="127.00" y="198.80" font-size="9.9" text-anchor="middle" fill="#111" >Temperature (°C)</text>
<text transform="translate(20.5,90.4) rotate(-90)" font-size="9.65" text-anchor="middle" fill="#222">Ion conductivity (mS cm<tspan font-size="5.5" dy="-3">-1</tspan><tspan dy="3">)</tspan></text>
<text x="244.00" y="11.80" font-size="17" text-anchor="start" fill="#111" >b</text>
<line x1="292.50" y1="167.50" x2="292.50" y2="20.00" stroke="#333333" stroke-width="1" />
<path d="M290.00,21.30 L292.50,13.30 L295.00,21.30 Z" fill="#333333"/>
<line x1="292.50" y1="167.50" x2="433.00" y2="167.50" stroke="#333333" stroke-width="1" />
<path d="M432.50,165.00 L440.50,167.50 L432.50,170.00 Z" fill="#333333"/>
<line x1="288.50" y1="147.10" x2="292.50" y2="147.10" stroke="#333333" stroke-width="1" />
<text x="284.10" y="150.50" font-size="9.7" text-anchor="end" fill="#111" >2</text>
<line x1="288.50" y1="95.70" x2="292.50" y2="95.70" stroke="#333333" stroke-width="1" />
<text x="284.10" y="99.10" font-size="9.7" text-anchor="end" fill="#111" >3</text>
<line x1="288.50" y1="44.30" x2="292.50" y2="44.30" stroke="#333333" stroke-width="1" />
<text x="284.10" y="47.70" font-size="9.7" text-anchor="end" fill="#111" >4</text>
<line x1="290.00" y1="121.40" x2="292.50" y2="121.40" stroke="#333333" stroke-width="1" />
<line x1="290.00" y1="70.00" x2="292.50" y2="70.00" stroke="#333333" stroke-width="1" />
<line x1="292.50" y1="167.50" x2="292.50" y2="171.00" stroke="#333333" stroke-width="1" />
<text x="292.50" y="184.80" font-size="9.7" text-anchor="middle" fill="#111" >-50</text>
<line x1="341.50" y1="167.50" x2="341.50" y2="171.00" stroke="#333333" stroke-width="1" />
<text x="341.50" y="184.80" font-size="9.7" text-anchor="middle" fill="#111" >0</text>
<line x1="390.50" y1="167.50" x2="390.50" y2="171.00" stroke="#333333" stroke-width="1" />
<text x="390.50" y="184.80" font-size="9.7" text-anchor="middle" fill="#111" >50</text>
<text x="439.50" y="184.80" font-size="9.7" text-anchor="middle" fill="#111" >100</text>
<line x1="317.00" y1="167.50" x2="317.00" y2="170.00" stroke="#333333" stroke-width="1" />
<line x1="366.00" y1="167.50" x2="366.00" y2="170.00" stroke="#333333" stroke-width="1" />
<line x1="415.00" y1="167.50" x2="415.00" y2="170.00" stroke="#333333" stroke-width="1" />
<text x="373.80" y="200.30" font-size="9.9" text-anchor="middle" fill="#111" >Temperature (°C)</text>
<text transform="translate(269,96.8) rotate(-90)" font-size="10.2" text-anchor="middle" fill="#111" xml:space="preserve">R<tspan font-size="5.8" dy="2">T</tspan><tspan dy="-2">  (MΩ)</tspan></text>
<path d="M307.5,100.3 L341.5,129.1 L365.9,135.8 L394.8,141.9 L423.7,145.4" fill="none" stroke="#333" stroke-width="1.05" stroke-dasharray="4,3"/>
<path d="M307.5,28.3 L341.5,110.0 L365.9,131.0 L394.8,139.9 L423.7,143.2" fill="none" stroke="#333" stroke-width="1.05" stroke-dasharray="4,3"/>
<circle cx="307.50" cy="100.30" r="3.8" fill="#e9694b" stroke="#222" stroke-width="0.8"/>
<circle cx="341.50" cy="129.10" r="3.8" fill="#e9694b" stroke="#222" stroke-width="0.8"/>
<circle cx="365.90" cy="135.80" r="3.8" fill="#e9694b" stroke="#222" stroke-width="0.8"/>
<circle cx="394.80" cy="141.90" r="3.8" fill="#e9694b" stroke="#222" stroke-width="0.8"/>
<circle cx="423.70" cy="145.40" r="3.8" fill="#e9694b" stroke="#222" stroke-width="0.8"/>
<circle cx="307.50" cy="28.30" r="3.8" fill="#346cb9" stroke="#222" stroke-width="0.8"/>
<circle cx="341.50" cy="110.00" r="3.8" fill="#346cb9" stroke="#222" stroke-width="0.8"/>
<circle cx="365.90" cy="131.00" r="3.8" fill="#346cb9" stroke="#222" stroke-width="0.8"/>
<circle cx="394.80" cy="139.90" r="3.8" fill="#346cb9" stroke="#222" stroke-width="0.8"/>
<circle cx="423.70" cy="143.20" r="3.8" fill="#346cb9" stroke="#222" stroke-width="0.8"/>
<line x1="381.70" y1="21.30" x2="385.80" y2="21.30" stroke="#444" stroke-width="0.9" />
<line x1="397.10" y1="21.30" x2="400.60" y2="21.30" stroke="#444" stroke-width="0.9" />
<circle cx="393.10" cy="21.30" r="3.8" fill="#e9694b" stroke="#222" stroke-width="0.8"/>
<text x="406.50" y="24.50" font-size="9" text-anchor="start" fill="#111" >+ Clusters</text>
<line x1="381.70" y1="32.80" x2="385.80" y2="32.80" stroke="#444" stroke-width="0.9" />
<line x1="397.10" y1="32.80" x2="400.60" y2="32.80" stroke="#444" stroke-width="0.9" />
<circle cx="393.10" cy="32.80" r="3.8" fill="#346cb9" stroke="#222" stroke-width="0.8"/>
<text x="406.20" y="36.00" font-size="9" text-anchor="start" fill="#111" >- Clusters</text>
<text x="467.60" y="11.80" font-size="17" text-anchor="start" fill="#111" >c</text>
<line x1="526.50" y1="167.50" x2="526.50" y2="20.00" stroke="#333333" stroke-width="1" />
<path d="M524.00,21.10 L526.50,13.10 L529.00,21.10 Z" fill="#333333"/>
<line x1="526.50" y1="167.50" x2="667.00" y2="167.50" stroke="#333333" stroke-width="1" />
<path d="M666.00,165.00 L674.00,167.50 L666.00,170.00 Z" fill="#333333"/>
<line x1="522.50" y1="167.50" x2="526.50" y2="167.50" stroke="#333333" stroke-width="1" />
<text x="515.20" y="170.90" font-size="9.7" text-anchor="end" fill="#111" >0</text>
<line x1="522.50" y1="134.65" x2="526.50" y2="134.65" stroke="#333333" stroke-width="1" />
<text x="515.20" y="138.05" font-size="9.7" text-anchor="end" fill="#111" >30</text>
<line x1="522.50" y1="101.80" x2="526.50" y2="101.80" stroke="#333333" stroke-width="1" />
<text x="515.20" y="105.20" font-size="9.7" text-anchor="end" fill="#111" >60</text>
<line x1="522.50" y1="68.95" x2="526.50" y2="68.95" stroke="#333333" stroke-width="1" />
<text x="515.20" y="72.35" font-size="9.7" text-anchor="end" fill="#111" >90</text>
<line x1="522.50" y1="36.10" x2="526.50" y2="36.10" stroke="#333333" stroke-width="1" />
<text x="515.20" y="39.50" font-size="9.7" text-anchor="end" fill="#111" >120</text>
<line x1="524.00" y1="151.07" x2="526.50" y2="151.07" stroke="#333333" stroke-width="1" />
<line x1="524.00" y1="118.22" x2="526.50" y2="118.22" stroke="#333333" stroke-width="1" />
<line x1="524.00" y1="85.38" x2="526.50" y2="85.38" stroke="#333333" stroke-width="1" />
<line x1="524.00" y1="52.53" x2="526.50" y2="52.53" stroke="#333333" stroke-width="1" />
<line x1="544.80" y1="167.50" x2="544.80" y2="171.00" stroke="#333333" stroke-width="1" />
<text x="543.70" y="184.80" font-size="9.7" text-anchor="middle" fill="#111" >10</text>
<line x1="581.15" y1="167.50" x2="581.15" y2="171.00" stroke="#333333" stroke-width="1" />
<text x="580.05" y="184.80" font-size="9.7" text-anchor="middle" fill="#111" >15</text>
<line x1="617.50" y1="167.50" x2="617.50" y2="171.00" stroke="#333333" stroke-width="1" />
<text x="616.40" y="184.80" font-size="9.7" text-anchor="middle" fill="#111" >20</text>
<line x1="653.85" y1="167.50" x2="653.85" y2="171.00" stroke="#333333" stroke-width="1" />
<text x="652.75" y="184.80" font-size="9.7" text-anchor="middle" fill="#111" >25</text>
<line x1="526.62" y1="167.50" x2="526.62" y2="170.00" stroke="#333333" stroke-width="1" />
<line x1="562.97" y1="167.50" x2="562.97" y2="170.00" stroke="#333333" stroke-width="1" />
<line x1="599.32" y1="167.50" x2="599.32" y2="170.00" stroke="#333333" stroke-width="1" />
<line x1="635.67" y1="167.50" x2="635.67" y2="170.00" stroke="#333333" stroke-width="1" />
<text x="594.70" y="200.30" font-size="9.9" text-anchor="middle" fill="#111" >ΔT (K)</text>
<text transform="translate(491.2,96.3) rotate(-90)" font-size="9.9" text-anchor="middle" fill="#222">ΔE (mV)</text>
<path d="M544.8,125.8 L581.1,117.0 L617.5,77.9 L653.8,37.8" fill="none" stroke="#333" stroke-width="1.05" stroke-dasharray="4,3"/>
<path d="M544.8,153.4 L581.1,134.7 L617.5,127.5 L653.8,121.5" fill="none" stroke="#333" stroke-width="1.05" stroke-dasharray="4,3"/>
<circle cx="544.80" cy="125.80" r="3.8" fill="#e9694b" stroke="#222" stroke-width="0.8"/>
<circle cx="581.15" cy="117.00" r="3.8" fill="#e9694b" stroke="#222" stroke-width="0.8"/>
<circle cx="617.50" cy="77.90" r="3.8" fill="#e9694b" stroke="#222" stroke-width="0.8"/>
<circle cx="653.85" cy="37.80" r="3.8" fill="#e9694b" stroke="#222" stroke-width="0.8"/>
<circle cx="544.80" cy="153.40" r="3.8" fill="#346cb9" stroke="#222" stroke-width="0.8"/>
<circle cx="581.15" cy="134.70" r="3.8" fill="#346cb9" stroke="#222" stroke-width="0.8"/>
<circle cx="617.50" cy="127.50" r="3.8" fill="#346cb9" stroke="#222" stroke-width="0.8"/>
<circle cx="653.85" cy="121.50" r="3.8" fill="#346cb9" stroke="#222" stroke-width="0.8"/>
<line x1="532.30" y1="29.60" x2="536.60" y2="29.60" stroke="#444" stroke-width="0.9" />
<line x1="548.00" y1="29.60" x2="551.50" y2="29.60" stroke="#444" stroke-width="0.9" />
<circle cx="543.10" cy="29.60" r="3.8" fill="#e9694b" stroke="#222" stroke-width="0.8"/>
<text x="557.20" y="32.80" font-size="9" text-anchor="start" fill="#111" >+ Clusters</text>
<line x1="532.30" y1="41.70" x2="536.60" y2="41.70" stroke="#444" stroke-width="0.9" />
<line x1="548.00" y1="41.70" x2="551.50" y2="41.70" stroke="#444" stroke-width="0.9" />
<circle cx="543.10" cy="41.70" r="3.8" fill="#346cb9" stroke="#222" stroke-width="0.8"/>
<text x="556.60" y="44.90" font-size="9" text-anchor="start" fill="#111" >- Clusters</text>
<text x="340.00" y="234.50" font-size="17" text-anchor="start" fill="#111" >e</text>
<rect x="435" y="226" width="243" height="60" fill="#fcfcfc"/>
<rect x="435" y="311" width="243" height="40" fill="#fcfcfc"/>
<path d="M377.6,263.4 L396.0,265.9 L421.9,267.3 L439.4,268.4 L454.0,268.8 L461.3,268.2 L486.1,268.5 L488.3,270.2 L488.3,272.2 L377.6,272.2 Z" fill="#f8d8ce"/>
<path d="M602.6,274.3 L627.0,276.7 L650.0,277.8 L677.0,279.4 L677,272.2 L590,272.2 Z" fill="#f8d8ce"/>
<path d="M377.6,263.4 L396.0,265.9 L421.9,267.3 L439.4,268.4 L454.0,268.8 L461.3,268.2 L486.1,268.5 L488.3,270.2" fill="none" stroke="#e9694b" stroke-width="0.8"/>
<path d="M590,272.5 602.6,274.3 L627.0,276.7 L650.0,277.8 L677.0,279.4" fill="none" stroke="#e9694b" stroke-width="0.8"/>
<rect x="378" y="270.1" width="299.5" height="4.2" fill="#e9694b"/>
<line x1="377.50" y1="301.50" x2="377.50" y2="229.00" stroke="#333333" stroke-width="1" />
<path d="M375.00,230.60 L377.50,222.60 L380.00,230.60 Z" fill="#333333"/>
<line x1="377.50" y1="301.50" x2="670.00" y2="301.50" stroke="#333333" stroke-width="1" />
<path d="M669.80,299.00 L677.80,301.50 L669.80,304.00 Z" fill="#333333"/>
<line x1="373.50" y1="288.80" x2="377.50" y2="288.80" stroke="#333333" stroke-width="1" />
<text x="370.50" y="292.20" font-size="9.7" text-anchor="end" fill="#111" >0.4</text>
<line x1="373.50" y1="262.70" x2="377.50" y2="262.70" stroke="#333333" stroke-width="1" />
<text x="370.50" y="266.10" font-size="9.7" text-anchor="end" fill="#111" >0.6</text>
<line x1="373.50" y1="236.60" x2="377.50" y2="236.60" stroke="#333333" stroke-width="1" />
<text x="370.50" y="240.00" font-size="9.7" text-anchor="end" fill="#111" >0.8</text>
<line x1="375.00" y1="301.85" x2="377.50" y2="301.85" stroke="#333333" stroke-width="1" />
<line x1="375.00" y1="275.75" x2="377.50" y2="275.75" stroke="#333333" stroke-width="1" />
<line x1="375.00" y1="249.65" x2="377.50" y2="249.65" stroke="#333333" stroke-width="1" />
<line x1="452.25" y1="301.50" x2="452.25" y2="305.00" stroke="#333333" stroke-width="1" />
<line x1="527.00" y1="301.50" x2="527.00" y2="305.00" stroke="#333333" stroke-width="1" />
<line x1="601.75" y1="301.50" x2="601.75" y2="305.00" stroke="#333333" stroke-width="1" />
<line x1="414.88" y1="301.50" x2="414.88" y2="303.50" stroke="#333333" stroke-width="1" />
<line x1="489.62" y1="301.50" x2="489.62" y2="303.50" stroke="#333333" stroke-width="1" />
<line x1="564.38" y1="301.50" x2="564.38" y2="303.50" stroke="#333333" stroke-width="1" />
<line x1="639.12" y1="301.50" x2="639.12" y2="303.50" stroke="#333333" stroke-width="1" />
<line x1="396.30" y1="270.00" x2="396.30" y2="250.00" stroke="#e9694b" stroke-width="0.9" />
<path d="M393.7,253 L396.3,244.3 L398.9,253 Z" fill="#e9694b"/>
<text x="415.60" y="251.20" font-size="9.0" text-anchor="start" fill="#ec7a5c" >0.52 V</text>
<circle cx="549.4" cy="231.9" r="2.1" fill="#e9694b"/>
<text x="563.70" y="235.00" font-size="8.9" text-anchor="start" fill="#111" >Extreme temperature -35°C</text>
<path d="M378.5,344.7 L385.0,347.3 L396.3,351.4 L402.0,352.6 L416.8,355.1 L429.3,357.1 L446.6,358.6 L466.5,360.4 L470.0,361.6 L477.0,363.0 L477,365 L378.5,365 Z" fill="#f8d8ce"/>
<path d="M378.5,344.7 L385.0,347.3 L396.3,351.4 L402.0,352.6 L416.8,355.1 L429.3,357.1 L446.6,358.6 L466.5,360.4 L470.0,361.6 L477.0,363.0" fill="none" stroke="#e9694b" stroke-width="0.8"/>
<path d="M527.0,366.5 L545.9,369.7 L564.8,371.0 L580.0,371.8 L594.5,372.4 L605.0,372.4 L613.4,371.8 L618.8,370.2 L640.4,369.7 L650.0,370.6 L656.6,371.3 L667.4,368.9 L677.0,370.8 L677,365 L527,365 Z" fill="#f8d8ce"/>
<path d="M527.0,366.5 L545.9,369.7 L564.8,371.0 L580.0,371.8 L594.5,372.4 L605.0,372.4 L613.4,371.8 L618.8,370.2 L640.4,369.7 L650.0,370.6 L656.6,371.3 L667.4,368.9 L677.0,370.8" fill="none" stroke="#e9694b" stroke-width="0.8"/>
<rect x="378" y="363" width="299.5" height="4.2" fill="#e9694b"/>
<line x1="377.50" y1="387.50" x2="377.50" y2="313.00" stroke="#333333" stroke-width="1" />
<path d="M375.00,315.60 L377.50,307.60 L380.00,315.60 Z" fill="#333333"/>
<line x1="377.50" y1="387.50" x2="670.00" y2="387.50" stroke="#333333" stroke-width="1" />
<path d="M669.80,385.00 L677.80,387.50 L669.80,390.00 Z" fill="#333333"/>
<line x1="373.50" y1="386.61" x2="377.50" y2="386.61" stroke="#333333" stroke-width="1" />
<text x="370.50" y="390.01" font-size="9.7" text-anchor="end" fill="#111" >0.6</text>
<line x1="373.50" y1="363.00" x2="377.50" y2="363.00" stroke="#333333" stroke-width="1" />
<text x="370.50" y="366.40" font-size="9.7" text-anchor="end" fill="#111" >0.9</text>
<line x1="373.50" y1="339.39" x2="377.50" y2="339.39" stroke="#333333" stroke-width="1" />
<text x="370.50" y="342.79" font-size="9.7" text-anchor="end" fill="#111" >1.2</text>
<line x1="373.50" y1="315.78" x2="377.50" y2="315.78" stroke="#333333" stroke-width="1" />
<text x="370.50" y="319.18" font-size="9.7" text-anchor="end" fill="#111" >1.5</text>
<line x1="375.00" y1="374.81" x2="377.50" y2="374.81" stroke="#333333" stroke-width="1" />
<line x1="375.00" y1="351.19" x2="377.50" y2="351.19" stroke="#333333" stroke-width="1" />
<line x1="375.00" y1="327.58" x2="377.50" y2="327.58" stroke="#333333" stroke-width="1" />
<line x1="377.50" y1="387.50" x2="377.50" y2="391.00" stroke="#333333" stroke-width="1" />
<text x="377.50" y="402.30" font-size="9.7" text-anchor="middle" fill="#111" >0</text>
<line x1="452.25" y1="387.50" x2="452.25" y2="391.00" stroke="#333333" stroke-width="1" />
<text x="452.25" y="402.30" font-size="9.7" text-anchor="middle" fill="#111" >30</text>
<line x1="527.00" y1="387.50" x2="527.00" y2="391.00" stroke="#333333" stroke-width="1" />
<text x="527.00" y="402.30" font-size="9.7" text-anchor="middle" fill="#111" >60</text>
<line x1="601.75" y1="387.50" x2="601.75" y2="391.00" stroke="#333333" stroke-width="1" />
<text x="601.75" y="402.30" font-size="9.7" text-anchor="middle" fill="#111" >90</text>
<text x="676.50" y="402.30" font-size="9.7" text-anchor="middle" fill="#111" >120</text>
<line x1="414.88" y1="387.50" x2="414.88" y2="389.50" stroke="#333333" stroke-width="1" />
<line x1="489.62" y1="387.50" x2="489.62" y2="389.50" stroke="#333333" stroke-width="1" />
<line x1="564.38" y1="387.50" x2="564.38" y2="389.50" stroke="#333333" stroke-width="1" />
<line x1="639.12" y1="387.50" x2="639.12" y2="389.50" stroke="#333333" stroke-width="1" />
<text x="528.00" y="413.50" font-size="9.6" text-anchor="middle" fill="#111" >Time (h)</text>
<line x1="396.30" y1="363.00" x2="396.30" y2="342.00" stroke="#e9694b" stroke-width="0.9" />
<path d="M393.7,345.2 L396.3,336.6 L398.9,345.2 Z" fill="#e9694b"/>
<text x="415.60" y="336.80" font-size="9.0" text-anchor="start" fill="#ec7a5c" >0.87 V</text>
<circle cx="552.7" cy="318.9" r="2.1" fill="#e9694b"/>
<text x="566.40" y="322.00" font-size="8.9" text-anchor="start" fill="#111" >Extreme temperature 80°C</text>
<text transform="translate(348,304.5) rotate(-90)" font-size="9.9" text-anchor="middle" fill="#111">Hydrovoltaic V<tspan font-size="6.2" dy="2">oc</tspan><tspan dy="-2"> (V)</tspan></text>
<text x="331.00" y="461.50" font-size="17" text-anchor="start" fill="#111" >g</text>
<rect x="363.5" y="465.5" width="315.0" height="60.0" fill="#ffffff" stroke="#c8c8c8" stroke-width="1"/>
<rect x="467.8" y="466.2" width="84.09999999999997" height="58.60000000000004" fill="#f9dcd5"/>
<path d="M389.00,506.70 L389.25,494.92 L389.66,499.80 L390.06,502.76 L390.47,504.55 L390.88,505.64 L391.29,506.30 L391.69,506.70 L391.94,493.90 L392.33,499.20 L392.71,502.42 L393.09,504.37 L393.47,505.55 L393.86,506.27 L394.24,506.70 L394.49,494.80 L394.90,499.73 L395.32,502.72 L395.73,504.53 L396.15,505.63 L396.56,506.30 L396.98,506.70 L397.23,495.50 L397.62,500.14 L398.02,502.95 L398.41,504.66 L398.81,505.69 L399.20,506.32 L399.59,506.70 L399.84,494.54 L400.31,499.57 L400.78,502.63 L401.25,504.48 L401.72,505.61 L402.18,506.29 L402.65,506.70 L402.90,495.70 L403.24,500.25 L403.58,503.02 L403.92,504.69 L404.26,505.71 L404.60,506.33 L404.94,506.70 L405.19,495.70 L405.67,500.26 L406.14,503.02 L406.61,504.69 L407.08,505.71 L407.56,506.33 L408.03,506.70 L408.28,494.40 L408.55,499.49 L408.82,502.58 L409.10,504.46 L409.37,505.59 L409.64,506.28 L409.91,506.70 L410.16,493.78 L410.68,499.13 L411.19,502.37 L411.70,504.34 L412.21,505.54 L412.73,506.26 L413.24,506.70 L413.49,494.49 L413.91,499.54 L414.33,502.61 L414.75,504.47 L415.18,505.60 L415.60,506.28 L416.02,506.70 L416.27,495.56 L416.53,500.17 L416.80,502.97 L417.07,504.67 L417.33,505.70 L417.60,506.32 L417.86,506.70 L418.11,494.76 L418.39,499.70 L418.67,502.70 L418.94,504.52 L419.22,505.62 L419.50,506.29 L419.77,506.70 L420.02,495.49 L420.35,500.13 L420.67,502.95 L421.00,504.65 L421.32,505.69 L421.65,506.32 L421.97,506.70 L422.22,495.84 L422.60,500.33 L422.99,503.06 L423.37,504.72 L423.75,505.72 L424.13,506.33 L424.52,506.70 L424.77,494.95 L425.25,499.81 L425.73,502.77 L426.21,504.56 L426.69,505.64 L427.17,506.30 L427.65,506.70 L427.90,494.78 L428.33,499.72 L428.76,502.71 L429.18,504.53 L429.61,505.63 L430.04,506.29 L430.47,506.70 L430.72,494.82 L431.15,499.74 L431.59,502.72 L432.02,504.53 L432.45,505.63 L432.89,506.30 L433.32,506.70 L433.57,494.91 L433.91,499.79 L434.24,502.75 L434.57,504.55 L434.91,505.64 L435.24,506.30 L435.58,506.70 L435.83,493.75 L436.35,499.11 L436.87,502.36 L437.39,504.34 L437.91,505.53 L438.43,506.26 L438.95,506.70 L439.20,494.09 L439.65,499.31 L440.09,502.48 L440.54,504.40 L440.98,505.56 L441.43,506.27 L441.87,506.70 L442.12,495.22 L442.45,499.97 L442.77,502.86 L443.09,504.61 L443.41,505.67 L443.73,506.31 L444.05,506.70 L444.30,495.28 L444.58,500.01 L444.86,502.88 L445.14,504.62 L445.42,505.67 L445.70,506.31 L445.98,506.70 L446.23,494.24 L446.60,499.40 L446.96,502.53 L447.33,504.43 L447.69,505.58 L448.06,506.28 L448.43,506.70 L448.68,494.07 L449.04,499.30 L449.40,502.47 L449.76,504.40 L450.13,505.56 L450.49,506.27 L450.85,506.70 L451.10,493.83 L451.58,499.16 L452.06,502.39 L452.55,504.35 L453.03,505.54 L453.51,506.26 L453.99,506.70 L454.24,495.90 L454.56,500.37 L454.87,503.08 L455.19,504.73 L455.51,505.73 L455.82,506.33 L456.14,506.70 L456.39,493.93 L456.77,499.22 L457.16,502.43 L457.54,504.37 L457.92,505.55 L458.31,506.27 L458.69,506.70 L458.94,493.78 L459.31,499.13 L459.67,502.38 L460.04,504.34 L460.40,505.54 L460.77,506.26 L461.13,506.70 L461.38,495.74 L461.81,500.28 L462.23,503.03 L462.66,504.70 L463.08,505.71 L463.51,506.33 L463.93,506.70 L464.18,494.22 L464.52,499.39 L464.85,502.52 L465.18,504.42 L465.51,505.58 L465.84,506.28 L466.17,506.70 L466.42,495.71 L466.77,500.26 L467.12,503.02 L467.47,504.70 L467.82,505.71 L468.16,506.33 L468.51,506.70 L468.76,486.30 L469.26,494.75 L469.76,499.87 L470.25,502.98 L470.75,504.86 L471.25,506.01 L471.75,506.70 L472.00,489.20 L472.35,496.44 L472.70,500.84 L473.06,503.51 L473.41,505.12 L473.77,506.11 L474.12,506.70 L474.37,489.25 L474.67,496.48 L474.97,500.86 L475.28,503.52 L475.58,505.13 L475.88,506.11 L476.18,506.70 L476.43,486.87 L476.77,495.08 L477.10,500.06 L477.44,503.08 L477.77,504.92 L478.10,506.03 L478.44,506.70 L478.69,487.69 L479.10,495.56 L479.51,500.34 L479.92,503.23 L480.33,504.99 L480.74,506.05 L481.15,506.70 L481.40,488.95 L481.89,496.30 L482.38,500.76 L482.87,503.46 L483.36,505.10 L483.85,506.10 L484.34,506.70 L484.59,489.15 L485.06,496.42 L485.52,500.83 L485.99,503.50 L486.45,505.12 L486.92,506.10 L487.38,506.70 L487.63,489.20 L488.04,496.45 L488.44,500.84 L488.84,503.51 L489.24,505.12 L489.65,506.11 L490.05,506.70 L490.30,488.87 L490.66,496.25 L491.02,500.73 L491.38,503.45 L491.74,505.09 L492.10,506.09 L492.46,506.70 L492.71,486.28 L493.22,494.74 L493.73,499.86 L494.24,502.97 L494.75,504.86 L495.26,506.01 L495.77,506.70 L496.02,488.56 L496.55,496.07 L497.09,500.63 L497.62,503.39 L498.15,505.07 L498.69,506.08 L499.22,506.70 L499.47,488.88 L499.86,496.26 L500.26,500.73 L500.65,503.45 L501.05,505.10 L501.45,506.09 L501.84,506.70 L502.09,486.68 L502.56,494.97 L503.02,500.00 L503.49,503.05 L503.95,504.90 L504.41,506.02 L504.88,506.70 L505.13,489.26 L505.69,496.48 L506.25,500.86 L506.82,503.52 L507.38,505.13 L507.94,506.11 L508.50,506.70 L508.75,488.87 L509.11,496.25 L509.47,500.73 L509.82,503.45 L510.18,505.09 L510.54,506.09 L510.90,506.70 L511.15,486.96 L511.52,495.13 L511.90,500.09 L512.28,503.10 L512.65,504.92 L513.03,506.03 L513.41,506.70 L513.66,488.59 L513.96,496.09 L514.27,500.64 L514.57,503.40 L514.88,505.07 L515.19,506.08 L515.49,506.70 L515.74,489.29 L516.19,496.50 L516.64,500.87 L517.09,503.52 L517.53,505.13 L517.98,506.11 L518.43,506.70 L518.68,488.77 L519.13,496.19 L519.59,500.70 L520.04,503.43 L520.49,505.09 L520.95,506.09 L521.40,506.70 L521.65,488.33 L522.06,495.94 L522.47,500.55 L522.89,503.35 L523.30,505.05 L523.71,506.08 L524.12,506.70 L524.37,486.32 L524.79,494.76 L525.21,499.88 L525.63,502.98 L526.05,504.87 L526.47,506.01 L526.89,506.70 L527.14,487.63 L527.67,495.53 L528.20,500.32 L528.73,503.22 L529.26,504.98 L529.78,506.05 L530.31,506.70 L530.56,488.97 L530.89,496.31 L531.22,500.77 L531.54,503.47 L531.87,505.10 L532.20,506.10 L532.53,506.70 L532.78,486.49 L533.29,494.86 L533.81,499.94 L534.32,503.01 L534.84,504.88 L535.35,506.01 L535.86,506.70 L536.11,488.75 L536.45,496.18 L536.79,500.69 L537.13,503.42 L537.47,505.08 L537.80,506.09 L538.14,506.70 L538.39,487.07 L538.94,495.20 L539.49,500.13 L540.04,503.12 L540.59,504.93 L541.13,506.03 L541.68,506.70 L541.93,488.93 L542.48,496.29 L543.03,500.75 L543.58,503.46 L544.14,505.10 L544.69,506.10 L545.24,506.70 L545.49,486.58 L545.94,494.91 L546.40,499.97 L546.85,503.03 L547.30,504.89 L547.76,506.02 L548.21,506.70 L548.46,488.16 L548.78,495.84 L549.09,500.49 L549.40,503.32 L549.72,505.03 L550.03,506.07 L550.35,506.70 L550.60,489.47 L551.15,496.60 L551.71,500.93 L552.26,503.56 L552.81,505.15 L553.37,506.11 L553.92,506.70 L554.17,483.13 L554.84,492.89 L555.51,498.81 L556.18,502.40 L556.85,504.58 L557.52,505.90 L558.19,506.70 L558.44,483.04 L559.15,492.84 L559.87,498.78 L560.58,502.38 L561.30,504.57 L562.01,505.90 L562.73,506.70 L562.98,481.52 L563.49,491.94 L564.00,498.27 L564.52,502.11 L565.03,504.43 L565.54,505.84 L566.06,506.70 L566.31,483.41 L566.98,493.05 L567.66,498.90 L568.33,502.45 L569.01,504.60 L569.68,505.91 L570.36,506.70 L570.61,483.89 L571.10,493.34 L571.59,499.06 L572.08,502.54 L572.56,504.65 L573.05,505.92 L573.54,506.70 L573.79,481.68 L574.52,492.04 L575.24,498.33 L575.97,502.14 L576.69,504.45 L577.42,505.85 L578.14,506.70 L578.39,481.44 L578.90,491.90 L579.41,498.24 L579.92,502.09 L580.43,504.43 L580.93,505.84 L581.44,506.70 L581.69,480.07 L582.17,491.10 L582.65,497.79 L583.13,501.84 L583.61,504.30 L584.09,505.79 L584.57,506.70 L584.82,484.13 L585.32,493.47 L585.83,499.14 L586.33,502.58 L586.83,504.67 L587.34,505.93 L587.84,506.70 L588.09,482.19 L588.52,492.34 L588.94,498.50 L589.37,502.23 L589.79,504.49 L590.21,505.87 L590.64,506.70 L590.89,483.41 L591.43,493.05 L591.97,498.90 L592.51,502.45 L593.06,504.60 L593.60,505.91 L594.14,506.70 L594.39,481.63 L594.84,492.01 L595.29,498.31 L595.75,502.13 L596.20,504.44 L596.65,505.85 L597.10,506.70 L597.35,482.57 L598.09,492.56 L598.83,498.62 L599.57,502.30 L600.31,504.53 L601.05,505.88 L601.79,506.70 L602.04,479.79 L602.69,490.93 L603.34,497.69 L604.00,501.79 L604.65,504.28 L605.30,505.79 L605.95,506.70 L606.20,481.09 L606.82,491.69 L607.45,498.13 L608.07,502.03 L608.69,504.39 L609.32,505.83 L609.94,506.70 L610.19,483.57 L610.61,493.15 L611.02,498.96 L611.44,502.48 L611.85,504.62 L612.27,505.91 L612.68,506.70 L612.93,484.12 L613.68,493.47 L614.43,499.14 L615.17,502.58 L615.92,504.67 L616.67,505.93 L617.42,506.70 L617.67,481.05 L618.43,491.67 L619.20,498.11 L619.97,502.02 L620.74,504.39 L621.50,505.83 L622.27,506.70 L622.52,484.10 L623.17,493.46 L623.81,499.14 L624.45,502.58 L625.10,504.67 L625.74,505.93 L626.38,506.70 L626.63,482.03 L627.31,492.25 L627.99,498.44 L628.67,502.20 L629.35,504.48 L630.03,505.86 L630.71,506.70 L630.96,482.76 L631.74,492.68 L632.52,498.69 L633.30,502.33 L634.08,504.55 L634.87,505.89 L635.65,506.70 L635.90,483.86 L636.51,493.32 L637.12,499.05 L637.72,502.53 L638.33,504.64 L638.94,505.92 L639.55,506.70 L639.80,480.88 L640.55,491.57 L641.29,498.06 L642.03,501.99 L642.78,504.38 L643.52,505.82 L644.26,506.70 L644.51,480.88 L645.18,491.57 L645.85,498.06 L646.52,501.99 L647.19,504.38 L647.86,505.82 L648.53,506.70 L648.78,480.63 L649.53,491.43 L650.28,497.97 L651.03,501.94 L651.78,504.35 L652.53,505.81 L653.28,506.70 L653.53,482.62 L654.19,492.59 L654.85,498.64 L655.51,502.31 L656.17,504.53 L656.84,505.88 L657.50,506.70 L657.75,480.15 L658.48,491.14 L659.21,497.81 L659.95,501.86 L660.68,504.31 L661.41,505.80 L662.14,506.70" fill="none" stroke="#111" stroke-width="0.7" stroke-linejoin="round"/>
<rect x="349.5" y="460.5" width="126.0" height="17.0" fill="#ffffff" stroke="#c8c8c8" stroke-width="1"/>
<text x="354.00" y="472.65" font-size="9.75" text-anchor="start" fill="#111" >Pressure sensing at 80 °C</text>
<text x="420.60" y="523.00" font-size="8.9" text-anchor="middle" fill="#111" >385 kPa</text>
<text x="510.00" y="523.00" font-size="8.9" text-anchor="middle" fill="#111" >470 kPa</text>
<text x="617.70" y="523.00" font-size="8.9" text-anchor="middle" fill="#111" >615 kPa</text>
<path d="M376.5,503.4 L376.5,514.6 L388.5,514.6" fill="none" stroke="#222" stroke-width="0.8"/>
<text transform="translate(372.2,510.0) rotate(-90)" font-size="6.4" text-anchor="middle" fill="#222">20 μA</text>
<text x="377.10" y="521.90" font-size="6.5" text-anchor="start" fill="#111" >100 s</text>
<rect x="363.5" y="544.5" width="315.0" height="59.0" fill="#ffffff" stroke="#c8c8c8" stroke-width="1"/>
<rect x="469.5" y="544.6" width="89.89999999999998" height="57.99999999999996" fill="#efefef"/>
<path d="M394.60,590.50 L394.85,579.66 L395.28,584.15 L395.72,586.87 L396.15,588.52 L396.58,589.52 L397.01,590.13 L397.45,590.50 L397.70,579.28 L397.99,583.93 L398.29,586.74 L398.59,588.45 L398.89,589.49 L399.19,590.12 L399.49,590.50 L399.74,580.58 L400.10,584.69 L400.46,587.18 L400.82,588.69 L401.17,589.61 L401.53,590.16 L401.89,590.50 L402.14,580.06 L402.62,584.38 L403.09,587.00 L403.56,588.60 L404.03,589.56 L404.50,590.15 L404.98,590.50 L405.23,579.23 L405.64,583.90 L406.06,586.73 L406.48,588.44 L406.90,589.49 L407.32,590.12 L407.74,590.50 L407.99,579.49 L408.42,584.05 L408.85,586.82 L409.29,588.49 L409.72,589.51 L410.15,590.13 L410.59,590.50 L410.84,580.31 L411.21,584.53 L411.59,587.09 L411.97,588.64 L412.34,589.58 L412.72,590.15 L413.09,590.50 L413.34,580.28 L413.84,584.51 L414.34,587.08 L414.83,588.64 L415.33,589.58 L415.83,590.15 L416.33,590.50 L416.58,580.48 L417.05,584.63 L417.53,587.15 L418.00,588.67 L418.47,589.60 L418.95,590.16 L419.42,590.50 L419.67,580.45 L420.11,584.61 L420.55,587.14 L420.99,588.67 L421.44,589.60 L421.88,590.16 L422.32,590.50 L422.57,579.93 L422.93,584.31 L423.30,586.96 L423.67,588.57 L424.03,589.55 L424.40,590.14 L424.77,590.50 L425.02,578.93 L425.28,583.72 L425.55,586.63 L425.82,588.39 L426.08,589.46 L426.35,590.11 L426.62,590.50 L426.87,580.48 L427.37,584.63 L427.86,587.15 L428.36,588.67 L428.86,589.60 L429.36,590.16 L429.86,590.50 L430.11,579.59 L430.40,584.11 L430.68,586.85 L430.97,588.51 L431.25,589.52 L431.54,590.13 L431.83,590.50 L432.08,578.65 L432.58,583.55 L433.09,586.53 L433.60,588.34 L434.11,589.43 L434.61,590.10 L435.12,590.50 L435.37,580.38 L435.74,584.57 L436.12,587.11 L436.49,588.65 L436.86,589.59 L437.23,590.16 L437.60,590.50 L437.85,580.33 L438.20,584.54 L438.54,587.10 L438.88,588.65 L439.22,589.58 L439.57,590.15 L439.91,590.50 L440.16,579.37 L440.46,583.98 L440.77,586.77 L441.07,588.47 L441.38,589.50 L441.68,590.12 L441.98,590.50 L442.23,579.22 L442.51,583.89 L442.78,586.72 L443.06,588.44 L443.34,589.48 L443.61,590.12 L443.89,590.50 L444.14,580.26 L444.61,584.50 L445.08,587.07 L445.56,588.63 L446.03,589.58 L446.50,590.15 L446.98,590.50 L447.23,579.81 L447.60,584.23 L447.97,586.92 L448.34,588.55 L448.71,589.54 L449.08,590.14 L449.45,590.50 L449.70,579.42 L450.09,584.01 L450.47,586.79 L450.86,588.48 L451.24,589.50 L451.63,590.12 L452.01,590.50 L452.26,579.84 L452.53,584.25 L452.80,586.93 L453.07,588.56 L453.34,589.54 L453.61,590.14 L453.88,590.50 L454.13,579.16 L454.65,583.86 L455.16,586.70 L455.67,588.43 L456.19,589.48 L456.70,590.11 L457.21,590.50 L457.46,578.67 L457.90,583.57 L458.33,586.54 L458.76,588.34 L459.20,589.43 L459.63,590.10 L460.07,590.50 L460.32,579.89 L460.67,584.29 L461.03,586.95 L461.38,588.57 L461.74,589.55 L462.10,590.14 L462.45,590.50 L462.70,579.23 L463.14,583.90 L463.58,586.73 L464.01,588.44 L464.45,589.49 L464.89,590.12 L465.32,590.50 L465.57,580.37 L465.90,584.57 L466.22,587.11 L466.54,588.65 L466.87,589.59 L467.19,590.16 L467.51,590.50 L467.76,579.88 L468.16,584.28 L468.55,586.95 L468.94,588.56 L469.34,589.54 L469.73,590.14 L470.13,590.50 L470.38,572.72 L470.85,580.08 L471.33,584.55 L471.80,587.26 L472.28,588.90 L472.75,589.90 L473.23,590.50 L473.48,575.11 L474.05,581.49 L474.63,585.35 L475.20,587.69 L475.78,589.11 L476.35,589.98 L476.93,590.50 L477.18,573.88 L477.66,580.76 L478.14,584.94 L478.62,587.47 L479.10,589.00 L479.58,589.94 L480.06,590.50 L480.31,574.52 L480.77,581.14 L481.22,585.15 L481.67,587.58 L482.12,589.06 L482.58,589.96 L483.03,590.50 L483.28,574.01 L483.84,580.84 L484.40,584.98 L484.96,587.49 L485.52,589.02 L486.08,589.94 L486.63,590.50 L486.88,574.89 L487.37,581.35 L487.87,585.27 L488.36,587.65 L488.85,589.09 L489.34,589.97 L489.83,590.50 L490.08,574.66 L490.61,581.22 L491.15,585.20 L491.68,587.61 L492.22,589.07 L492.76,589.96 L493.29,590.50 L493.54,575.09 L493.95,581.47 L494.35,585.34 L494.76,587.69 L495.16,589.11 L495.57,589.98 L495.98,590.50 L496.23,574.15 L496.74,580.92 L497.26,585.03 L497.78,587.52 L498.30,589.03 L498.81,589.94 L499.33,590.50 L499.58,575.04 L500.04,581.44 L500.51,585.32 L500.97,587.68 L501.43,589.11 L501.89,589.97 L502.35,590.50 L502.60,574.56 L503.01,581.16 L503.42,585.16 L503.83,587.59 L504.23,589.07 L504.64,589.96 L505.05,590.50 L505.30,573.74 L505.92,580.68 L506.53,584.89 L507.15,587.44 L507.77,588.99 L508.39,589.93 L509.00,590.50 L509.25,573.73 L509.87,580.67 L510.49,584.89 L511.10,587.44 L511.72,588.99 L512.33,589.93 L512.95,590.50 L513.20,574.69 L513.81,581.24 L514.41,585.21 L515.02,587.62 L515.63,589.08 L516.23,589.96 L516.84,590.50 L517.09,574.09 L517.47,580.88 L517.85,585.01 L518.23,587.51 L518.60,589.02 L518.98,589.94 L519.36,590.50 L519.61,572.91 L520.21,580.19 L520.82,584.61 L521.42,587.29 L522.02,588.92 L522.63,589.90 L523.23,590.50 L523.48,575.18 L523.88,581.52 L524.28,585.37 L524.69,587.71 L525.09,589.12 L525.49,589.98 L525.90,590.50 L526.15,572.84 L526.57,580.15 L527.00,584.59 L527.42,587.28 L527.85,588.91 L528.28,589.90 L528.70,590.50 L528.95,574.46 L529.28,581.10 L529.60,585.13 L529.92,587.57 L530.24,589.06 L530.57,589.95 L530.89,590.50 L531.14,575.08 L531.65,581.46 L532.16,585.34 L532.67,587.69 L533.19,589.11 L533.70,589.98 L534.21,590.50 L534.46,572.19 L535.09,579.77 L535.72,584.37 L536.35,587.16 L536.98,588.85 L537.61,589.88 L538.24,590.50 L538.49,573.66 L538.81,580.63 L539.14,584.86 L539.47,587.43 L539.80,588.98 L540.12,589.93 L540.45,590.50 L540.70,574.21 L541.27,580.96 L541.83,585.05 L542.39,587.53 L542.96,589.03 L543.52,589.95 L544.09,590.50 L544.34,572.65 L544.85,580.04 L545.37,584.53 L545.89,587.24 L546.41,588.89 L546.93,589.89 L547.45,590.50 L547.70,574.50 L548.18,581.12 L548.66,585.14 L549.15,587.58 L549.63,589.06 L550.11,589.96 L550.60,590.50 L550.85,573.74 L551.36,580.68 L551.88,584.89 L552.39,587.44 L552.90,588.99 L553.42,589.93 L553.93,590.50 L554.18,574.40 L554.80,581.06 L555.41,585.11 L556.02,587.56 L556.64,589.05 L557.25,589.95 L557.86,590.50 L558.11,572.46 L558.48,579.93 L558.85,584.46 L559.22,587.21 L559.59,588.88 L559.96,589.89 L560.34,590.50 L560.59,567.64 L561.30,577.11 L562.01,582.85 L562.72,586.33 L563.44,588.44 L564.15,589.72 L564.86,590.50 L565.11,567.70 L565.85,577.14 L566.59,582.87 L567.33,586.34 L568.07,588.45 L568.81,589.72 L569.55,590.50 L569.80,566.67 L570.45,576.54 L571.09,582.52 L571.74,586.15 L572.39,588.35 L573.04,589.69 L573.68,590.50 L573.93,565.86 L574.40,576.06 L574.87,582.25 L575.34,586.00 L575.81,588.28 L576.28,589.66 L576.75,590.50 L577.00,567.67 L577.48,577.12 L577.97,582.86 L578.45,586.33 L578.94,588.44 L579.42,589.72 L579.91,590.50 L580.16,565.95 L580.80,576.11 L581.45,582.28 L582.10,586.02 L582.74,588.29 L583.39,589.67 L584.04,590.50 L584.29,568.33 L585.00,577.51 L585.72,583.08 L586.44,586.46 L587.16,588.50 L587.88,589.75 L588.59,590.50 L588.84,567.08 L589.32,576.78 L589.80,582.66 L590.28,586.23 L590.76,588.39 L591.24,589.70 L591.72,590.50 L591.97,567.02 L592.72,576.74 L593.47,582.64 L594.23,586.22 L594.98,588.39 L595.73,589.70 L596.48,590.50 L596.73,566.48 L597.36,576.43 L597.98,582.46 L598.60,586.12 L599.22,588.34 L599.84,589.68 L600.46,590.50 L600.71,564.93 L601.46,575.52 L602.20,581.94 L602.95,585.83 L603.69,588.20 L604.44,589.63 L605.19,590.50 L605.44,565.61 L605.98,575.92 L606.53,582.17 L607.07,585.96 L607.61,588.26 L608.16,589.65 L608.70,590.50 L608.95,566.36 L609.68,576.35 L610.40,582.42 L611.12,586.10 L611.85,588.33 L612.57,589.68 L613.29,590.50 L613.54,565.49 L614.15,575.85 L614.75,582.13 L615.36,585.94 L615.96,588.25 L616.57,589.65 L617.17,590.50 L617.42,567.40 L617.95,576.96 L618.47,582.77 L619.00,586.29 L619.53,588.42 L620.05,589.71 L620.58,590.50 L620.83,565.72 L621.43,575.98 L622.03,582.21 L622.63,585.98 L623.22,588.27 L623.82,589.66 L624.42,590.50 L624.67,568.83 L625.32,577.80 L625.98,583.24 L626.63,586.55 L627.28,588.55 L627.93,589.76 L628.59,590.50 L628.84,565.00 L629.52,575.56 L630.21,581.96 L630.89,585.85 L631.58,588.20 L632.26,589.63 L632.95,590.50 L633.20,565.02 L633.92,575.57 L634.65,581.97 L635.38,585.85 L636.11,588.21 L636.83,589.63 L637.56,590.50 L637.81,566.59 L638.49,576.49 L639.17,582.50 L639.86,586.14 L640.54,588.35 L641.22,589.69 L641.90,590.50 L642.15,567.26 L642.58,576.88 L643.00,582.72 L643.43,586.26 L643.86,588.41 L644.28,589.71 L644.71,590.50 L644.96,567.37 L645.46,576.95 L645.97,582.76 L646.48,586.28 L646.98,588.42 L647.49,589.71 L647.99,590.50 L648.24,564.87 L648.89,575.48 L649.53,581.92 L650.18,585.82 L650.82,588.19 L651.47,589.63 L652.11,590.50 L652.36,566.56 L652.98,576.47 L653.60,582.49 L654.22,586.13 L654.84,588.34 L655.46,589.69 L656.08,590.50" fill="none" stroke="#111" stroke-width="0.7" stroke-linejoin="round"/>
<rect x="349.5" y="537.5" width="126.0" height="18.0" fill="#ffffff" stroke="#c8c8c8" stroke-width="1"/>
<text x="355.20" y="549.85" font-size="9.75" text-anchor="start" fill="#111" >Pressure sensing at 25 °C</text>
<text x="429.30" y="600.80" font-size="8.9" text-anchor="middle" fill="#111" >125 kPa</text>
<text x="514.00" y="600.80" font-size="8.9" text-anchor="middle" fill="#111" >240 kPa</text>
<text x="625.60" y="600.80" font-size="8.9" text-anchor="middle" fill="#111" >350 kPa</text>
<path d="M376.7,581.4 L376.7,592.5 L392.6,592.5" fill="none" stroke="#222" stroke-width="0.8"/>
<text transform="translate(372.4,587.95) rotate(-90)" font-size="6.4" text-anchor="middle" fill="#222">20 μA</text>
<text x="377.30" y="599.80" font-size="6.5" text-anchor="start" fill="#111" >100 s</text>
<rect x="363.5" y="623.5" width="315.0" height="59.0" fill="#ffffff" stroke="#c8c8c8" stroke-width="1"/>
<rect x="480.2" y="623.6" width="95.40000000000003" height="57.99999999999996" fill="#d3e1ee"/>
<path d="M398.30,663.80 L398.55,652.72 L399.01,657.31 L399.47,660.09 L399.93,661.78 L400.38,662.80 L400.84,663.42 L401.30,663.80 L401.55,651.83 L402.05,656.79 L402.56,659.79 L403.06,661.62 L403.56,662.72 L404.06,663.39 L404.57,663.80 L404.82,652.88 L405.15,657.40 L405.49,660.14 L405.82,661.81 L406.16,662.82 L406.49,663.43 L406.83,663.80 L407.08,652.96 L407.41,657.45 L407.75,660.17 L408.08,661.82 L408.42,662.82 L408.75,663.43 L409.08,663.80 L409.33,651.72 L409.64,656.72 L409.95,659.76 L410.26,661.60 L410.57,662.71 L410.88,663.39 L411.19,663.80 L411.44,652.15 L411.77,656.97 L412.10,659.90 L412.43,661.67 L412.76,662.75 L413.09,663.40 L413.42,663.80 L413.67,652.65 L414.06,657.27 L414.45,660.07 L414.84,661.77 L415.23,662.80 L415.62,663.42 L416.01,663.80 L416.26,651.51 L416.70,656.60 L417.14,659.68 L417.57,661.56 L418.01,662.69 L418.45,663.38 L418.89,663.80 L419.14,653.24 L419.48,657.61 L419.83,660.26 L420.18,661.87 L420.53,662.85 L420.88,663.44 L421.22,663.80 L421.47,652.96 L421.98,657.45 L422.49,660.17 L423.00,661.82 L423.51,662.82 L424.02,663.43 L424.52,663.80 L424.77,651.56 L425.27,656.63 L425.76,659.70 L426.25,661.57 L426.74,662.70 L427.23,663.38 L427.72,663.80 L427.97,651.53 L428.45,656.61 L428.92,659.69 L429.39,661.56 L429.87,662.70 L430.34,663.38 L430.82,663.80 L431.07,651.27 L431.55,656.46 L432.04,659.61 L432.53,661.51 L433.02,662.67 L433.51,663.37 L433.99,663.80 L434.24,652.73 L434.75,657.31 L435.25,660.09 L435.75,661.78 L436.25,662.80 L436.76,663.42 L437.26,663.80 L437.51,652.24 L437.99,657.03 L438.46,659.93 L438.94,661.69 L439.42,662.76 L439.90,663.41 L440.37,663.80 L440.62,652.08 L441.01,656.93 L441.40,659.88 L441.79,661.66 L442.18,662.75 L442.57,663.40 L442.96,663.80 L443.21,652.50 L443.60,657.18 L443.99,660.02 L444.38,661.74 L444.77,662.78 L445.16,663.42 L445.55,663.80 L445.80,652.61 L446.10,657.24 L446.41,660.05 L446.71,661.76 L447.02,662.79 L447.32,663.42 L447.63,663.80 L447.88,651.54 L448.36,656.62 L448.85,659.70 L449.34,661.56 L449.83,662.70 L450.32,663.38 L450.81,663.80 L451.06,651.19 L451.52,656.41 L451.98,659.58 L452.44,661.50 L452.90,662.67 L453.36,663.37 L453.82,663.80 L454.07,652.10 L454.54,656.95 L455.02,659.88 L455.49,661.67 L455.97,662.75 L456.44,663.40 L456.92,663.80 L457.17,652.99 L457.63,657.46 L458.08,660.18 L458.54,661.83 L458.99,662.83 L459.45,663.43 L459.91,663.80 L460.16,652.34 L460.48,657.08 L460.80,659.96 L461.12,661.71 L461.44,662.77 L461.76,663.41 L462.08,663.80 L462.33,652.84 L462.75,657.38 L463.16,660.13 L463.58,661.80 L463.99,662.81 L464.41,663.43 L464.82,663.80 L465.07,652.74 L465.47,657.32 L465.86,660.10 L466.26,661.78 L466.66,662.80 L467.06,663.42 L467.45,663.80 L467.70,651.99 L468.08,656.88 L468.46,659.85 L468.84,661.65 L469.22,662.74 L469.60,663.40 L469.99,663.80 L470.24,652.99 L470.64,657.47 L471.05,660.18 L471.45,661.83 L471.86,662.83 L472.26,663.43 L472.67,663.80 L472.92,652.77 L473.26,657.34 L473.59,660.11 L473.93,661.79 L474.27,662.81 L474.61,663.43 L474.94,663.80 L475.19,652.86 L475.56,657.39 L475.94,660.14 L476.31,661.80 L476.68,662.82 L477.05,663.43 L477.43,663.80 L477.68,653.12 L478.12,657.54 L478.57,660.22 L479.02,661.85 L479.47,662.84 L479.92,663.44 L480.37,663.80 L480.62,644.51 L481.01,652.50 L481.41,657.34 L481.80,660.28 L482.20,662.06 L482.59,663.14 L482.99,663.80 L483.24,645.27 L483.78,652.94 L484.33,657.60 L484.87,660.42 L485.42,662.13 L485.97,663.17 L486.51,663.80 L486.76,647.46 L487.09,654.23 L487.41,658.33 L487.74,660.82 L488.06,662.33 L488.39,663.24 L488.71,663.80 L488.96,644.99 L489.48,652.78 L490.00,657.50 L490.52,660.37 L491.04,662.11 L491.56,663.16 L492.08,663.80 L492.33,645.53 L492.66,653.10 L492.99,657.68 L493.32,660.47 L493.65,662.16 L493.98,663.18 L494.31,663.80 L494.56,646.26 L495.09,653.52 L495.61,657.93 L496.14,660.60 L496.67,662.22 L497.20,663.20 L497.73,663.80 L497.98,644.73 L498.49,652.63 L499.00,657.42 L499.51,660.32 L500.02,662.08 L500.53,663.15 L501.04,663.80 L501.29,646.94 L501.81,653.92 L502.33,658.16 L502.86,660.72 L503.38,662.28 L503.91,663.23 L504.43,663.80 L504.68,646.39 L505.17,653.60 L505.65,657.97 L506.14,660.62 L506.62,662.23 L507.11,663.21 L507.59,663.80 L507.84,647.16 L508.40,654.05 L508.96,658.23 L509.51,660.76 L510.07,662.30 L510.63,663.23 L511.19,663.80 L511.44,645.64 L511.92,653.16 L512.41,657.72 L512.90,660.49 L513.38,662.17 L513.87,663.18 L514.36,663.80 L514.61,646.91 L515.07,653.91 L515.52,658.15 L515.98,660.72 L516.44,662.28 L516.90,663.23 L517.36,663.80 L517.61,645.72 L518.06,653.21 L518.51,657.75 L518.96,660.50 L519.41,662.17 L519.86,663.19 L520.31,663.80 L520.56,646.44 L521.05,653.63 L521.54,657.99 L522.03,660.63 L522.51,662.24 L523.00,663.21 L523.49,663.80 L523.74,646.49 L524.11,653.66 L524.48,658.01 L524.85,660.64 L525.21,662.24 L525.58,663.21 L525.95,663.80 L526.20,647.07 L526.67,654.00 L527.15,658.20 L527.63,660.75 L528.10,662.29 L528.58,663.23 L529.06,663.80 L529.31,647.24 L529.66,654.10 L530.00,658.26 L530.35,660.78 L530.70,662.31 L531.05,663.24 L531.40,663.80 L531.65,647.38 L532.11,654.18 L532.58,658.30 L533.04,660.80 L533.51,662.32 L533.97,663.24 L534.44,663.80 L534.69,645.80 L535.12,653.25 L535.56,657.77 L536.00,660.52 L536.44,662.18 L536.87,663.19 L537.31,663.80 L537.56,647.47 L537.97,654.23 L538.38,658.33 L538.78,660.82 L539.19,662.33 L539.60,663.25 L540.01,663.80 L540.26,646.49 L540.57,653.66 L540.88,658.00 L541.19,660.64 L541.50,662.24 L541.81,663.21 L542.12,663.80 L542.37,647.59 L542.94,654.30 L543.50,658.37 L544.07,660.84 L544.63,662.34 L545.20,663.25 L545.76,663.80 L546.01,647.21 L546.38,654.08 L546.75,658.25 L547.12,660.77 L547.49,662.31 L547.86,663.24 L548.23,663.80 L548.48,646.73 L548.93,653.80 L549.38,658.09 L549.83,660.69 L550.29,662.26 L550.74,663.22 L551.19,663.80 L551.44,647.35 L551.86,654.16 L552.27,658.29 L552.69,660.80 L553.11,662.32 L553.52,663.24 L553.94,663.80 L554.19,646.41 L554.71,653.61 L555.23,657.98 L555.75,660.63 L556.26,662.23 L556.78,663.21 L557.30,663.80 L557.55,647.58 L557.93,654.30 L558.31,658.37 L558.69,660.84 L559.07,662.34 L559.45,663.25 L559.82,663.80 L560.07,645.99 L560.63,653.37 L561.19,657.84 L561.74,660.55 L562.30,662.20 L562.86,663.19 L563.41,663.80 L563.66,645.93 L564.08,653.33 L564.50,657.82 L564.92,660.54 L565.33,662.19 L565.75,663.19 L566.17,663.80 L566.42,645.43 L566.79,653.04 L567.16,657.65 L567.52,660.45 L567.89,662.15 L568.26,663.18 L568.63,663.80 L568.88,647.50 L569.30,654.25 L569.73,658.34 L570.15,660.83 L570.58,662.33 L571.01,663.25 L571.43,663.80 L571.68,644.65 L572.17,652.58 L572.66,657.39 L573.16,660.31 L573.65,662.08 L574.14,663.15 L574.63,663.80 L574.88,646.76 L575.36,653.82 L575.83,658.10 L576.31,660.69 L576.79,662.27 L577.26,663.22 L577.74,663.80 L577.99,638.53 L578.36,648.99 L578.73,655.34 L579.11,659.19 L579.48,661.53 L579.85,662.94 L580.22,663.80 L580.47,639.66 L580.87,649.66 L581.27,655.72 L581.67,659.40 L582.07,661.63 L582.47,662.98 L582.87,663.80 L583.12,641.14 L583.50,650.53 L583.88,656.22 L584.26,659.67 L584.64,661.76 L585.02,663.03 L585.40,663.80 L585.65,641.32 L586.05,650.63 L586.45,656.27 L586.84,659.70 L587.24,661.78 L587.64,663.04 L588.04,663.80 L588.29,642.04 L588.70,651.05 L589.11,656.51 L589.53,659.83 L589.94,661.84 L590.35,663.06 L590.76,663.80 L591.01,641.83 L591.53,650.92 L592.04,656.44 L592.56,659.79 L593.08,661.82 L593.59,663.05 L594.11,663.80 L594.36,639.61 L594.66,649.63 L594.96,655.70 L595.25,659.39 L595.55,661.62 L595.85,662.98 L596.15,663.80 L596.40,638.86 L596.75,649.19 L597.10,655.45 L597.45,659.25 L597.81,661.55 L598.16,662.95 L598.51,663.80 L598.76,640.12 L599.22,649.93 L599.67,655.87 L600.13,659.48 L600.59,661.67 L601.05,663.00 L601.50,663.80 L601.75,640.76 L602.13,650.30 L602.52,656.09 L602.90,659.60 L603.28,661.73 L603.66,663.02 L604.04,663.80 L604.29,640.32 L604.62,650.04 L604.96,655.94 L605.30,659.52 L605.63,661.69 L605.97,663.00 L606.31,663.80 L606.56,638.47 L606.89,648.96 L607.21,655.32 L607.54,659.18 L607.87,661.52 L608.20,662.94 L608.53,663.80 L608.78,638.64 L609.14,649.06 L609.50,655.38 L609.86,659.21 L610.22,661.54 L610.58,662.94 L610.94,663.80 L611.19,640.89 L611.60,650.38 L612.01,656.13 L612.42,659.62 L612.83,661.74 L613.24,663.02 L613.65,663.80 L613.90,642.06 L614.23,651.06 L614.56,656.52 L614.90,659.83 L615.23,661.84 L615.57,663.06 L615.90,663.80 L616.15,640.64 L616.57,650.23 L617.00,656.05 L617.42,659.58 L617.85,661.71 L618.27,663.01 L618.70,663.80 L618.95,638.41 L619.53,648.93 L620.12,655.30 L620.70,659.17 L621.28,661.51 L621.87,662.94 L622.45,663.80 L622.70,642.01 L623.15,651.03 L623.60,656.51 L624.06,659.83 L624.51,661.84 L624.96,663.06 L625.41,663.80 L625.66,641.64 L626.19,650.82 L626.72,656.38 L627.25,659.76 L627.78,661.81 L628.31,663.05 L628.84,663.80 L629.09,640.81 L629.65,650.33 L630.20,656.10 L630.76,659.61 L631.31,661.73 L631.87,663.02 L632.42,663.80 L632.67,639.84 L633.01,649.76 L633.34,655.78 L633.67,659.43 L634.01,661.64 L634.34,662.99 L634.67,663.80 L634.92,642.18 L635.29,651.13 L635.66,656.56 L636.03,659.86 L636.40,661.85 L636.77,663.07 L637.13,663.80 L637.38,638.45 L637.72,648.95 L638.06,655.31 L638.40,659.18 L638.74,661.52 L639.08,662.94 L639.42,663.80 L639.67,640.13 L640.08,649.93 L640.48,655.88 L640.89,659.48 L641.29,661.67 L641.70,663.00 L642.10,663.80 L642.35,640.71 L642.88,650.27 L643.41,656.07 L643.94,659.59 L644.47,661.72 L645.00,663.02 L645.53,663.80 L645.78,641.28 L646.28,650.60 L646.79,656.26 L647.29,659.69 L647.80,661.77 L648.30,663.03 L648.81,663.80 L649.06,639.32 L649.62,649.46 L650.19,655.61 L650.76,659.33 L651.33,661.60 L651.90,662.97 L652.46,663.80 L652.71,639.95 L653.28,649.83 L653.84,655.82 L654.40,659.45 L654.97,661.65 L655.53,662.99 L656.10,663.80 L656.35,640.30 L656.81,650.03 L657.27,655.93 L657.73,659.51 L658.20,661.68 L658.66,663.00 L659.12,663.80" fill="none" stroke="#111" stroke-width="0.7" stroke-linejoin="round"/>
<rect x="349.5" y="615.5" width="130.0" height="17.0" fill="#ffffff" stroke="#c8c8c8" stroke-width="1"/>
<text x="355.80" y="627.35" font-size="9.75" text-anchor="start" fill="#111" >Pressure sensing at -35 °C</text>
<text x="435.10" y="679.80" font-size="8.9" text-anchor="middle" fill="#111" >215 kPa</text>
<text x="526.20" y="679.80" font-size="8.9" text-anchor="middle" fill="#111" >345 kPa</text>
<text x="623.70" y="679.80" font-size="8.9" text-anchor="middle" fill="#111" >450 kPa</text>
<path d="M376.7,660 L376.7,671.5 L388.4,671.5" fill="none" stroke="#222" stroke-width="0.8"/>
<text transform="translate(372.4,666.75) rotate(-90)" font-size="6.4" text-anchor="middle" fill="#222">20 μA</text>
<text x="377.30" y="678.80" font-size="6.5" text-anchor="start" fill="#111" >100 s</text>
</svg>
</body></html>
